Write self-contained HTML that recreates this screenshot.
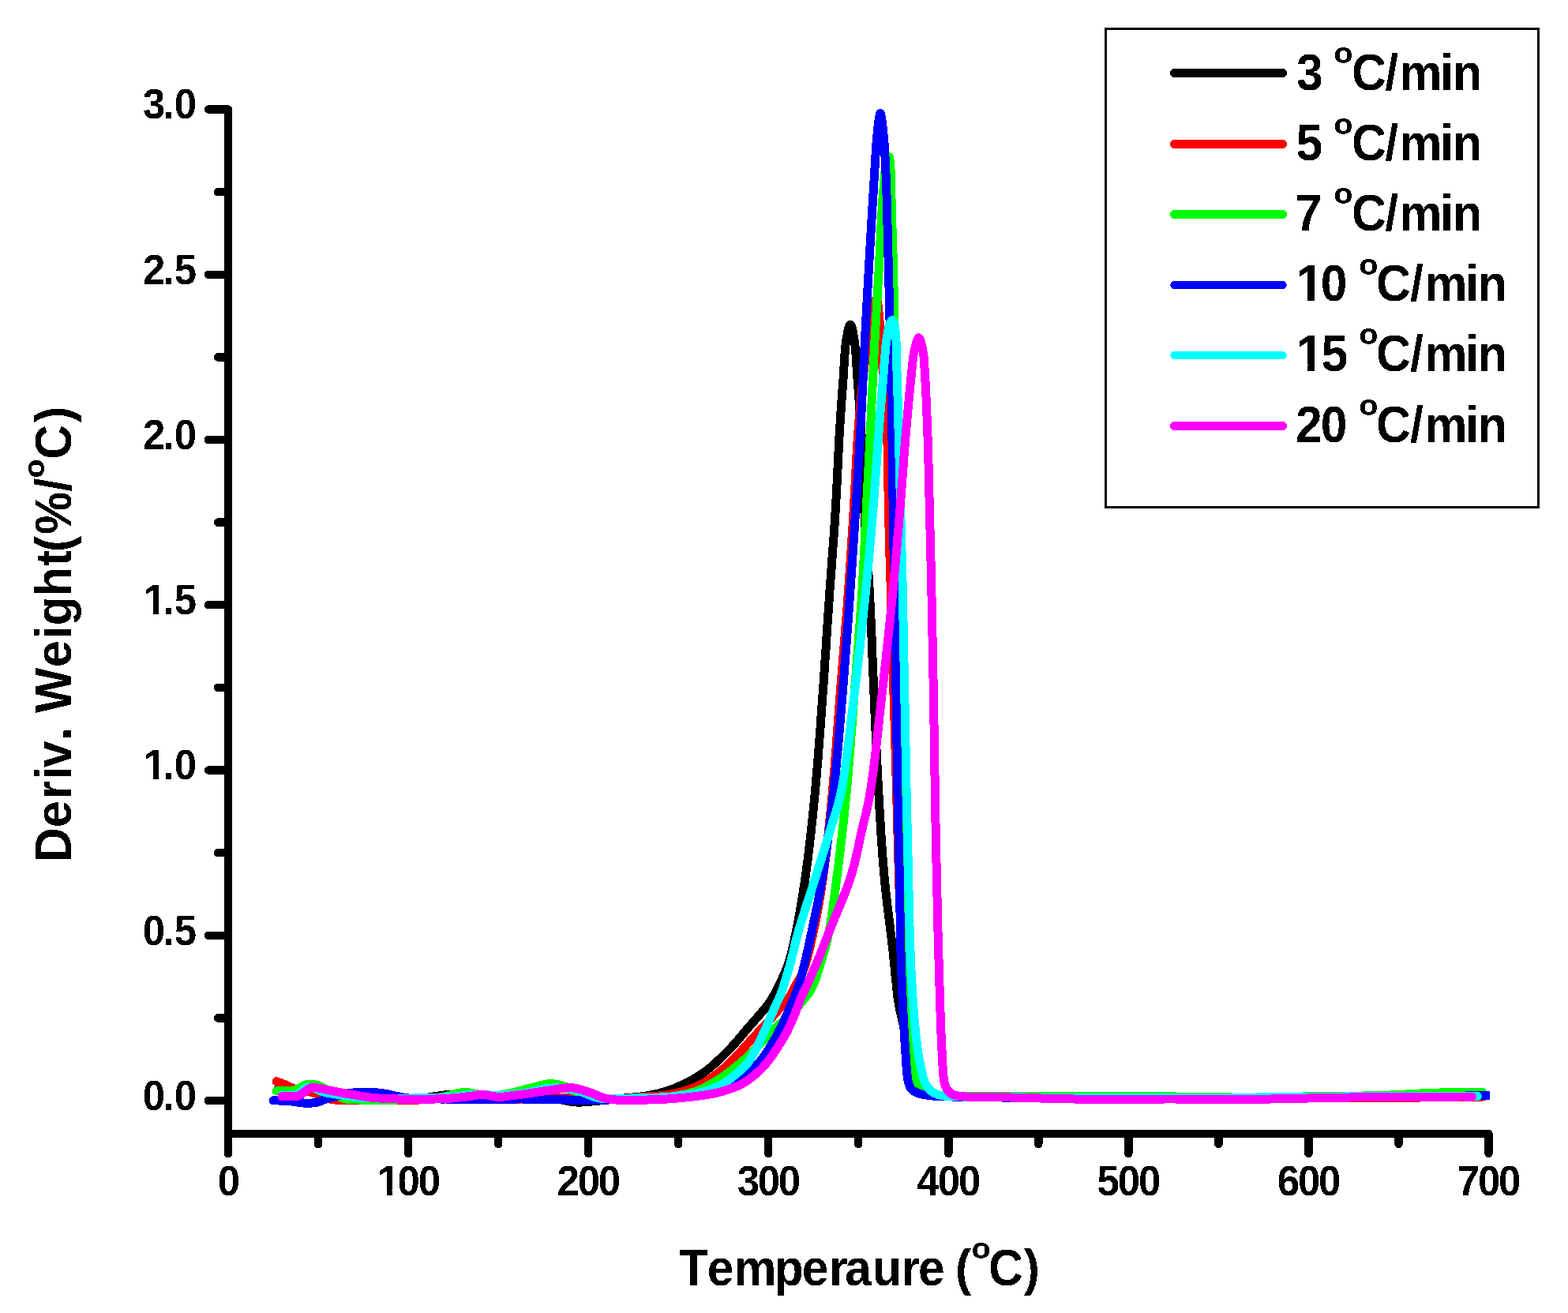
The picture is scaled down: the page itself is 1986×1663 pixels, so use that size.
<!DOCTYPE html>
<html lang="en"><head><meta charset="utf-8">
<title>Deriv. Weight vs Temperature</title>
<style>
html,body{margin:0;padding:0;background:#fff;}
body{width:1986px;height:1663px;overflow:hidden;}
svg{display:block;}
text{font-family:"Liberation Sans", sans-serif;font-weight:bold;fill:#000;font-kerning:none;white-space:pre;}
</style></head><body>
<svg width="1986" height="1663" viewBox="0 0 1986 1663" role="img" aria-label="Deriv. Weight versus Temperature at heating rates 3, 5, 7, 10, 15 and 20 degrees C per minute">
<rect x="0" y="0" width="1986" height="1663" fill="#fff"/>
<defs><filter id="bw" x="0" y="0" width="1986" height="1663" filterUnits="userSpaceOnUse" color-interpolation-filters="sRGB"><feComponentTransfer><feFuncR type="discrete" tableValues="0 1"/><feFuncG type="discrete" tableValues="0 1"/><feFuncB type="discrete" tableValues="0 1"/><feFuncA type="discrete" tableValues="0 1"/></feComponentTransfer></filter></defs>
<clipPath id="plot"><rect x="289" y="100" width="1598" height="1336"/></clipPath>
<g clip-path="url(#plot)" fill="none" stroke-width="11" stroke-linecap="round" stroke-linejoin="round" shape-rendering="crispEdges">
<path stroke="#000000" d="M353 1376.5 L354.4 1376.7 L355.8 1376.9 L357.3 1377.1 L358.7 1377.3 L360.1 1377.5 L361.6 1377.7 L363 1377.9 L364.4 1378.2 L365.8 1378.4 L367.2 1378.6 L368.6 1378.8 L370 1379 L371.3 1379.2 L372.6 1379.4 L373.9 1379.6 L375.2 1379.9 L376.6 1380.1 L377.9 1380.3 L379.1 1380.5 L380.4 1380.7 L381.6 1380.9 L382.8 1381.1 L383.9 1381.3 L385 1381.5 L385.8 1381.6 L386.5 1381.7 L387.2 1381.8 L387.9 1381.9 L388.5 1382 L389.2 1382.1 L389.8 1382.1 L390.5 1382.2 L391.1 1382.3 L391.7 1382.4 L392.4 1382.6 L393 1382.7 L393.6 1382.8 L394.2 1383 L394.8 1383.2 L395.3 1383.3 L395.9 1383.5 L396.5 1383.7 L397 1383.9 L397.6 1384.1 L398.2 1384.3 L398.8 1384.5 L399.4 1384.8 L400 1385 L400.8 1385.3 L401.5 1385.7 L402.3 1386 L403.1 1386.4 L403.9 1386.9 L404.7 1387.3 L405.6 1387.7 L406.4 1388.1 L407.3 1388.5 L408.2 1388.9 L409.1 1389.2 L410 1389.5 L411.1 1389.8 L412.2 1390.1 L413.4 1390.4 L414.5 1390.6 L415.7 1390.8 L416.9 1391 L418.1 1391.2 L419.4 1391.4 L420.7 1391.6 L422.1 1391.7 L423.5 1391.9 L425 1392 L427.4 1392.2 L430 1392.3 L432.7 1392.4 L435.5 1392.5 L438.4 1392.5 L441.4 1392.5 L444.5 1392.5 L447.6 1392.5 L450.7 1392.5 L453.9 1392.5 L457 1392.5 L460 1392.5 L463.2 1392.5 L466.5 1392.6 L469.9 1392.6 L473.2 1392.6 L476.6 1392.6 L480 1392.6 L483.4 1392.6 L486.8 1392.6 L490.1 1392.6 L493.5 1392.6 L496.8 1392.6 L500 1392.5 L503 1392.4 L506.1 1392.4 L509.1 1392.3 L512.2 1392.2 L515.2 1392.1 L518.3 1392 L521.2 1391.9 L524.2 1391.8 L527 1391.6 L529.8 1391.4 L532.4 1391.2 L535 1391 L536.9 1390.8 L538.7 1390.6 L540.5 1390.3 L542.2 1390.1 L543.9 1389.8 L545.5 1389.5 L547.2 1389.2 L548.8 1388.9 L550.3 1388.7 L551.9 1388.4 L553.4 1388.2 L555 1388 L556.3 1387.8 L557.6 1387.7 L558.9 1387.5 L560.2 1387.3 L561.4 1387.2 L562.6 1387 L563.9 1386.9 L565.1 1386.8 L566.3 1386.7 L567.5 1386.6 L568.8 1386.6 L570 1386.6 L571.3 1386.6 L572.5 1386.7 L573.8 1386.8 L575 1387 L576.3 1387.1 L577.5 1387.3 L578.8 1387.5 L580 1387.7 L581.3 1387.9 L582.5 1388.1 L583.8 1388.3 L585 1388.5 L586.2 1388.7 L587.4 1388.9 L588.6 1389.1 L589.8 1389.4 L591 1389.6 L592.2 1389.8 L593.4 1390.1 L594.6 1390.3 L595.9 1390.5 L597.2 1390.7 L598.6 1390.9 L600 1391 L602.1 1391.2 L604.4 1391.3 L606.8 1391.4 L609.2 1391.5 L611.8 1391.6 L614.3 1391.6 L617 1391.6 L619.6 1391.6 L622.3 1391.6 L624.9 1391.6 L627.5 1391.5 L630 1391.5 L632.5 1391.4 L635 1391.3 L637.4 1391.2 L639.8 1391.1 L642.3 1390.9 L644.7 1390.7 L647.2 1390.6 L649.7 1390.4 L652.2 1390.3 L654.7 1390.1 L657.3 1390.1 L660 1390 L663.2 1390 L666.4 1389.9 L669.7 1389.9 L673.1 1389.9 L676.6 1390 L680 1390 L683.5 1390.1 L686.9 1390.2 L690.3 1390.3 L693.6 1390.5 L696.9 1390.7 L700 1391 L702.7 1391.3 L705.3 1391.7 L707.8 1392.1 L710.3 1392.6 L712.8 1393.2 L715.3 1393.7 L717.7 1394.2 L720.2 1394.7 L722.6 1395.2 L725 1395.5 L727.5 1395.8 L730 1396 L732.5 1396.1 L735 1396.1 L737.5 1396 L740 1395.9 L742.5 1395.7 L745 1395.5 L747.5 1395.3 L750 1395 L752.5 1394.7 L755 1394.5 L757.5 1394.2 L760 1394 L762.5 1393.8 L765 1393.6 L767.5 1393.3 L770 1393.1 L772.5 1392.8 L775 1392.6 L777.5 1392.3 L780 1392.1 L782.5 1391.8 L785 1391.5 L787.5 1391.3 L790 1391 L792.5 1390.8 L795 1390.5 L797.5 1390.3 L800 1390.1 L802.5 1389.9 L805.1 1389.7 L807.6 1389.4 L810.1 1389.2 L812.6 1388.9 L815.1 1388.6 L817.5 1388.2 L820 1387.8 L822.5 1387.3 L825 1386.8 L827.5 1386.3 L830 1385.7 L832.6 1385.2 L835.1 1384.5 L837.5 1383.9 L840 1383.2 L842.3 1382.6 L844.6 1381.9 L846.8 1381.2 L848.9 1380.5 L850.4 1380 L851.9 1379.4 L853.3 1378.9 L854.7 1378.3 L856 1377.7 L857.3 1377.1 L858.6 1376.5 L859.9 1375.9 L861.2 1375.3 L862.4 1374.7 L863.7 1374.1 L865 1373.5 L866.3 1372.9 L867.5 1372.3 L868.8 1371.7 L870 1371.1 L871.3 1370.4 L872.5 1369.8 L873.8 1369.2 L875 1368.5 L876.2 1367.8 L877.5 1367.2 L878.7 1366.4 L880 1365.7 L881.4 1364.9 L882.8 1364 L884.2 1363.1 L885.6 1362.3 L887 1361.3 L888.4 1360.4 L889.8 1359.5 L891.2 1358.5 L892.6 1357.5 L894 1356.5 L895.4 1355.5 L896.8 1354.4 L898.2 1353.3 L899.7 1352.1 L901.1 1350.9 L902.5 1349.6 L903.9 1348.4 L905.3 1347.1 L906.7 1345.8 L908.1 1344.5 L909.5 1343.2 L910.9 1341.9 L912.3 1340.5 L913.7 1339.2 L915.1 1337.8 L916.5 1336.4 L918 1335.1 L919.4 1333.7 L920.8 1332.2 L922.2 1330.8 L923.6 1329.4 L925 1327.9 L926.4 1326.5 L927.7 1325 L929.1 1323.5 L930.5 1322 L931.9 1320.4 L933.3 1318.8 L934.7 1317.2 L936.1 1315.5 L937.5 1313.9 L938.9 1312.2 L940.3 1310.5 L941.7 1308.8 L943.1 1307.2 L944.5 1305.5 L945.9 1303.8 L947.3 1302.2 L948.7 1300.6 L950.2 1298.9 L951.7 1297.2 L953.1 1295.5 L954.6 1293.8 L956.1 1292.1 L957.6 1290.4 L959 1288.8 L960.4 1287.2 L961.7 1285.7 L963 1284.2 L964.2 1282.8 L965 1281.8 L965.8 1280.9 L966.5 1280.1 L967.3 1279.2 L968 1278.4 L968.6 1277.6 L969.3 1276.8 L970 1276 L970.6 1275.1 L971.3 1274.3 L971.9 1273.4 L972.6 1272.5 L973.3 1271.5 L974 1270.4 L974.8 1269.4 L975.5 1268.3 L976.1 1267.2 L976.8 1266.1 L977.5 1265 L978.2 1263.8 L978.9 1262.7 L979.6 1261.5 L980.3 1260.3 L981 1259 L981.9 1257.4 L982.8 1255.7 L983.7 1254 L984.6 1252.2 L985.5 1250.4 L986.4 1248.6 L987.3 1246.7 L988.2 1244.9 L989.1 1243 L989.9 1241.2 L990.7 1239.4 L991.5 1237.7 L992.2 1236.2 L992.8 1234.8 L993.5 1233.4 L994.1 1232 L994.7 1230.6 L995.3 1229.3 L995.8 1227.9 L996.4 1226.4 L997 1224.9 L997.6 1223.4 L998.1 1221.7 L998.7 1220 L999.5 1217.3 L1000.4 1214.4 L1001.2 1211.4 L1002 1208.3 L1002.8 1205.1 L1003.6 1201.8 L1004.4 1198.3 L1005.2 1194.8 L1006 1191.2 L1006.7 1187.5 L1007.5 1183.8 L1008.3 1180 L1009.3 1174.9 L1010.4 1169.6 L1011.4 1164.2 L1012.4 1158.7 L1013.4 1153 L1014.4 1147.1 L1015.4 1141.2 L1016.4 1135.1 L1017.4 1129 L1018.3 1122.7 L1019.3 1116.4 L1020.2 1110 L1021.3 1102 L1022.4 1093.9 L1023.5 1085.5 L1024.5 1076.9 L1025.5 1068.3 L1026.6 1059.4 L1027.5 1050.5 L1028.5 1041.5 L1029.5 1032.4 L1030.4 1023.3 L1031.3 1014.1 L1032.2 1005 L1033.1 995 L1034 984.8 L1034.9 974.5 L1035.8 964.2 L1036.6 953.7 L1037.4 943.2 L1038.2 932.6 L1039 922.1 L1039.7 911.5 L1040.5 901 L1041.2 890.5 L1042 880 L1042.8 869.6 L1043.5 859 L1044.2 848.5 L1044.9 837.9 L1045.7 827.4 L1046.4 816.8 L1047 806.3 L1047.7 795.9 L1048.4 785.5 L1049.1 775.2 L1049.8 765 L1050.5 755 L1051.1 745.9 L1051.8 737 L1052.4 728.1 L1053.1 719.3 L1053.7 710.6 L1054.4 701.9 L1055 693.3 L1055.7 684.7 L1056.3 676 L1056.9 667.4 L1057.4 658.7 L1058 650 L1058.5 641.2 L1059 632.2 L1059.5 623.2 L1060 614.1 L1060.4 605 L1060.9 595.9 L1061.3 587 L1061.7 578.1 L1062.2 569.5 L1062.6 561 L1063 552.9 L1063.5 545 L1063.9 539 L1064.2 533.2 L1064.6 527.5 L1065 521.9 L1065.4 516.4 L1065.7 511 L1066.1 505.7 L1066.5 500.5 L1066.9 495.3 L1067.2 490.2 L1067.6 485.1 L1068 480 L1068.3 475.5 L1068.6 471 L1068.9 466.5 L1069.1 462 L1069.4 457.5 L1069.7 453.1 L1070 448.8 L1070.3 444.6 L1070.7 440.6 L1071 436.9 L1071.5 433.3 L1072 430 L1072.3 428 L1072.7 425.8 L1073.1 423.7 L1073.5 421.6 L1073.9 419.5 L1074.4 417.5 L1074.8 415.7 L1075.3 414.2 L1075.7 412.9 L1076.1 411.9 L1076.6 411.2 L1077 411 L1077.4 411.2 L1077.9 411.9 L1078.3 412.9 L1078.7 414.2 L1079.2 415.7 L1079.6 417.5 L1080.1 419.5 L1080.5 421.6 L1080.9 423.7 L1081.3 425.8 L1081.7 428 L1082 430 L1082.5 433.3 L1082.9 436.8 L1083.3 440.6 L1083.7 444.6 L1084 448.7 L1084.3 453 L1084.6 457.3 L1084.8 461.8 L1085.1 466.3 L1085.4 470.9 L1085.7 475.5 L1086 480 L1086.4 485.4 L1086.8 490.8 L1087.3 496.4 L1087.7 502 L1088.1 507.7 L1088.6 513.5 L1089 519.3 L1089.4 525.3 L1089.8 531.3 L1090.3 537.5 L1090.6 543.7 L1091 550 L1091.4 557.7 L1091.8 565.6 L1092.1 573.7 L1092.4 581.9 L1092.7 590.3 L1093 598.7 L1093.3 607.3 L1093.6 615.8 L1093.9 624.4 L1094.2 633 L1094.6 641.5 L1095 650 L1095.5 658.6 L1096 667.2 L1096.5 675.9 L1097.1 684.5 L1097.7 693.1 L1098.2 701.8 L1098.8 710.5 L1099.4 719.2 L1100 728 L1100.6 736.9 L1101.1 745.9 L1101.6 755 L1102.1 765 L1102.6 775.2 L1103.1 785.5 L1103.5 795.8 L1104 806.3 L1104.4 816.8 L1104.8 827.3 L1105.2 837.9 L1105.7 848.4 L1106.1 859 L1106.5 869.5 L1107 880 L1107.5 890.6 L1107.9 901.3 L1108.4 912 L1108.9 922.8 L1109.4 933.5 L1109.8 944.3 L1110.3 955 L1110.8 965.6 L1111.4 976.2 L1111.9 986.6 L1112.4 996.9 L1113 1007 L1113.5 1016 L1114 1024.8 L1114.5 1033.6 L1115.1 1042.3 L1115.6 1050.9 L1116.1 1059.5 L1116.7 1067.9 L1117.3 1076.4 L1117.9 1084.8 L1118.6 1093.2 L1119.3 1101.6 L1120 1110 L1120.8 1118.1 L1121.6 1126.3 L1122.5 1134.5 L1123.5 1142.6 L1124.4 1150.8 L1125.4 1158.9 L1126.4 1166.9 L1127.4 1174.8 L1128.3 1182.6 L1129.3 1190.3 L1130.2 1197.7 L1131 1205 L1131.6 1210.9 L1132.2 1216.8 L1132.8 1222.6 L1133.4 1228.4 L1133.9 1234.1 L1134.4 1239.7 L1135 1245.1 L1135.5 1250.4 L1136.1 1255.6 L1136.7 1260.6 L1137.3 1265.4 L1138 1270 L1138.5 1273.1 L1139.1 1276.1 L1139.7 1278.9 L1140.3 1281.6 L1140.9 1284.2 L1141.6 1286.8 L1142.2 1289.4 L1142.8 1292 L1143.4 1294.6 L1144 1297.3 L1144.5 1300.1 L1145 1303 L1145.5 1306.7 L1146 1310.5 L1146.4 1314.6 L1146.7 1318.7 L1147.1 1322.9 L1147.4 1327.1 L1147.7 1331.2 L1148 1335.3 L1148.4 1339.3 L1148.7 1343.1 L1149.1 1346.7 L1149.5 1350 L1149.8 1352.2 L1150 1354.3 L1150.3 1356.3 L1150.5 1358.3 L1150.8 1360.2 L1151.1 1362.1 L1151.3 1363.9 L1151.7 1365.6 L1152 1367.3 L1152.5 1368.9 L1152.9 1370.5 L1153.5 1372 L1154 1373.1 L1154.4 1374.2 L1154.9 1375.3 L1155.4 1376.3 L1156 1377.3 L1156.5 1378.2 L1157.2 1379.2 L1157.8 1380 L1158.5 1380.8 L1159.3 1381.6 L1160.1 1382.3 L1161 1383 L1162.1 1383.7 L1163.3 1384.3 L1164.6 1384.8 L1165.9 1385.2 L1167.3 1385.6 L1168.8 1385.9 L1170.3 1386.2 L1172 1386.4 L1173.8 1386.6 L1175.7 1386.8 L1177.8 1387 L1180 1387.3 L1186.2 1387.9 L1193.4 1388.3 L1201.4 1388.6 L1210.3 1388.8 L1219.9 1388.9 L1230.1 1389 L1240.9 1389 L1252.2 1389 L1263.8 1388.9 L1275.7 1388.9 L1287.8 1388.9 L1300 1389 L1320.3 1389.2 L1342.3 1389.4 L1365.8 1389.5 L1390.5 1389.7 L1416.1 1389.9 L1442.4 1390 L1469.1 1390.1 L1496 1390.2 L1522.8 1390.3 L1549.2 1390.4 L1575 1390.5 L1600 1390.5 L1623.3 1390.5 L1646.5 1390.5 L1669.6 1390.4 L1692.6 1390.3 L1715.4 1390.3 L1738.2 1390.1 L1761 1390 L1783.8 1389.9 L1806.5 1389.8 L1829.3 1389.7 L1852.1 1389.6 L1875 1389.5"/>
<path stroke="#ff0000" d="M350.1 1369.6 L350.8 1369.8 L351.4 1370.1 L352.1 1370.3 L352.7 1370.5 L353.4 1370.8 L354.1 1371 L354.7 1371.3 L355.4 1371.5 L356 1371.7 L356.7 1372 L357.3 1372.2 L358 1372.5 L358.7 1372.8 L359.3 1373.1 L360 1373.3 L360.7 1373.6 L361.3 1373.9 L362 1374.2 L362.7 1374.5 L363.3 1374.8 L364 1375.1 L364.7 1375.4 L365.3 1375.7 L366 1376 L366.7 1376.3 L367.3 1376.6 L368 1376.9 L368.6 1377.2 L369.3 1377.5 L369.9 1377.8 L370.6 1378.1 L371.2 1378.4 L371.9 1378.7 L372.6 1379 L373.3 1379.3 L374 1379.5 L374.8 1379.8 L375.6 1380 L376.5 1380.2 L377.3 1380.4 L378.2 1380.6 L379 1380.8 L379.9 1381 L380.8 1381.2 L381.6 1381.4 L382.4 1381.5 L383.2 1381.7 L384 1381.8 L384.6 1381.9 L385.1 1382 L385.7 1382.1 L386.2 1382.2 L386.8 1382.2 L387.3 1382.3 L387.8 1382.4 L388.3 1382.4 L388.8 1382.5 L389.4 1382.6 L389.9 1382.6 L390.4 1382.7 L390.9 1382.8 L391.4 1382.8 L391.9 1382.9 L392.4 1383 L393 1383.1 L393.5 1383.1 L394 1383.2 L394.5 1383.3 L395 1383.4 L395.5 1383.5 L396 1383.6 L396.5 1383.7 L397 1383.8 L397.6 1384 L398.1 1384.2 L398.7 1384.3 L399.2 1384.5 L399.7 1384.7 L400.3 1384.9 L400.8 1385.1 L401.4 1385.3 L401.9 1385.5 L402.4 1385.8 L403 1386 L403.6 1386.3 L404.2 1386.6 L404.8 1387 L405.5 1387.4 L406.1 1387.8 L406.7 1388.2 L407.3 1388.6 L408 1389 L408.6 1389.3 L409.3 1389.7 L409.9 1390 L410.6 1390.3 L411.3 1390.6 L412.1 1390.8 L412.8 1391.1 L413.6 1391.3 L414.4 1391.5 L415.2 1391.6 L416 1391.8 L416.8 1392 L417.6 1392.1 L418.4 1392.2 L419.2 1392.4 L420 1392.5 L420.8 1392.6 L421.7 1392.7 L422.5 1392.8 L423.3 1392.9 L424.1 1393 L424.9 1393 L425.7 1393.1 L426.6 1393.1 L427.5 1393.2 L428.5 1393.2 L429.6 1393.3 L430.7 1393.3 L433.1 1393.4 L435.8 1393.4 L438.7 1393.5 L441.8 1393.5 L445.1 1393.5 L448.5 1393.5 L452 1393.5 L455.6 1393.5 L459.3 1393.5 L462.9 1393.5 L466.5 1393.5 L470 1393.5 L474 1393.5 L478.1 1393.6 L482.3 1393.6 L486.6 1393.6 L490.9 1393.7 L495.2 1393.7 L499.5 1393.7 L503.8 1393.7 L508 1393.7 L512.1 1393.7 L516.1 1393.6 L520 1393.5 L523.2 1393.4 L526.3 1393.2 L529.5 1393.1 L532.6 1392.9 L535.7 1392.7 L538.7 1392.5 L541.6 1392.2 L544.5 1392 L547.3 1391.8 L550 1391.5 L552.5 1391.3 L555 1391 L556.6 1390.8 L558.2 1390.6 L559.7 1390.3 L561.1 1390 L562.5 1389.8 L563.9 1389.5 L565.2 1389.2 L566.5 1389 L567.9 1388.8 L569.2 1388.6 L570.6 1388.5 L572 1388.5 L573.5 1388.5 L574.9 1388.6 L576.4 1388.8 L577.8 1389 L579.2 1389.3 L580.7 1389.5 L582.1 1389.8 L583.6 1390.1 L585.2 1390.4 L586.7 1390.6 L588.3 1390.8 L590 1391 L592.2 1391.2 L594.5 1391.3 L596.9 1391.4 L599.3 1391.6 L601.7 1391.6 L604.2 1391.7 L606.8 1391.8 L609.4 1391.8 L612 1391.9 L614.7 1391.9 L617.3 1392 L620 1392 L623.1 1392 L626.3 1392.1 L629.6 1392.1 L632.9 1392.2 L636.3 1392.2 L639.6 1392.2 L643 1392.2 L646.5 1392.2 L649.9 1392.2 L653.3 1392.1 L656.6 1392.1 L660 1392 L663.3 1391.9 L666.7 1391.7 L670 1391.5 L673.3 1391.3 L676.7 1391.1 L680 1390.9 L683.3 1390.7 L686.7 1390.4 L690 1390.3 L693.3 1390.1 L696.7 1390 L700 1390 L703.3 1390 L706.7 1390.1 L710 1390.3 L713.3 1390.4 L716.7 1390.7 L720 1390.9 L723.3 1391.1 L726.7 1391.3 L730 1391.5 L733.3 1391.7 L736.7 1391.9 L740 1392 L743.3 1392.1 L746.7 1392.2 L750 1392.2 L753.3 1392.3 L756.7 1392.3 L760 1392.3 L763.3 1392.3 L766.7 1392.3 L770 1392.3 L773.3 1392.2 L776.7 1392.1 L780 1392 L783.4 1391.9 L786.7 1391.7 L790.1 1391.5 L793.6 1391.2 L797 1391 L800.4 1390.7 L803.7 1390.4 L807.1 1390.1 L810.4 1389.9 L813.7 1389.6 L816.9 1389.3 L820 1389 L822.7 1388.8 L825.3 1388.6 L827.8 1388.4 L830.3 1388.2 L832.8 1388.1 L835.3 1387.9 L837.8 1387.7 L840.2 1387.4 L842.6 1387.2 L845.1 1386.8 L847.5 1386.5 L850 1386 L852.5 1385.5 L855.1 1384.9 L857.7 1384.3 L860.3 1383.6 L862.9 1382.9 L865.5 1382.1 L868 1381.4 L870.5 1380.5 L873 1379.7 L875.4 1378.8 L877.8 1377.9 L880 1377 L881.9 1376.2 L883.7 1375.4 L885.4 1374.5 L887.1 1373.7 L888.8 1372.8 L890.5 1371.9 L892.1 1371 L893.7 1370 L895.3 1369 L896.8 1368 L898.4 1367 L900 1366 L901.6 1364.9 L903.1 1363.8 L904.7 1362.7 L906.3 1361.5 L907.8 1360.4 L909.3 1359.2 L910.8 1358 L912.3 1356.7 L913.7 1355.5 L915.2 1354.3 L916.5 1353.2 L917.9 1352 L919 1351 L920.1 1350 L921.2 1349.1 L922.3 1348.2 L923.3 1347.2 L924.3 1346.3 L925.3 1345.3 L926.3 1344.4 L927.3 1343.4 L928.4 1342.4 L929.4 1341.3 L930.5 1340.2 L931.8 1338.8 L933.2 1337.4 L934.6 1335.9 L936 1334.4 L937.4 1332.8 L938.8 1331.2 L940.2 1329.6 L941.6 1328 L943.1 1326.4 L944.5 1324.8 L945.9 1323.3 L947.3 1321.7 L948.7 1320.1 L950.2 1318.5 L951.7 1316.8 L953.2 1315.2 L954.7 1313.5 L956.2 1311.8 L957.7 1310.2 L959.1 1308.7 L960.5 1307.2 L961.8 1305.7 L963.1 1304.4 L964.2 1303.2 L964.8 1302.5 L965.5 1301.9 L966 1301.4 L966.6 1300.9 L967.1 1300.4 L967.6 1299.9 L968.1 1299.4 L968.6 1298.9 L969.1 1298.4 L969.7 1297.9 L970.3 1297.3 L970.9 1296.6 L972 1295.4 L973.1 1294.2 L974.3 1292.8 L975.5 1291.4 L976.8 1289.9 L978.1 1288.3 L979.5 1286.7 L980.8 1285.1 L982.1 1283.6 L983.5 1282 L984.7 1280.5 L986 1279 L987.2 1277.6 L988.4 1276.2 L989.7 1274.8 L990.9 1273.5 L992.2 1272.1 L993.4 1270.7 L994.6 1269.3 L995.8 1268 L997 1266.6 L998 1265.3 L999.1 1263.9 L1000 1262.6 L1000.7 1261.5 L1001.3 1260.5 L1001.9 1259.5 L1002.5 1258.5 L1003 1257.4 L1003.5 1256.4 L1004 1255.4 L1004.5 1254.4 L1005 1253.3 L1005.6 1252.3 L1006.1 1251.1 L1006.7 1250 L1007.5 1248.6 L1008.3 1247.1 L1009.2 1245.7 L1010 1244.2 L1010.9 1242.7 L1011.8 1241.2 L1012.7 1239.6 L1013.6 1237.9 L1014.5 1236.2 L1015.3 1234.4 L1016.2 1232.5 L1017 1230.5 L1018.2 1227.2 L1019.4 1223.6 L1020.6 1219.8 L1021.8 1215.8 L1022.9 1211.7 L1024 1207.4 L1025.1 1202.9 L1026.2 1198.4 L1027.2 1193.8 L1028.3 1189.2 L1029.3 1184.6 L1030.3 1180 L1031.5 1174.6 L1032.6 1169.2 L1033.7 1163.7 L1034.8 1158.1 L1035.8 1152.4 L1036.8 1146.6 L1037.8 1140.8 L1038.8 1134.8 L1039.8 1128.8 L1040.7 1122.6 L1041.7 1116.4 L1042.6 1110 L1043.7 1102.2 L1044.7 1094.1 L1045.8 1085.9 L1046.8 1077.6 L1047.7 1069.1 L1048.7 1060.4 L1049.6 1051.7 L1050.5 1042.9 L1051.4 1034 L1052.3 1025 L1053.1 1016 L1054 1007 L1054.9 996.9 L1055.8 986.6 L1056.7 976.2 L1057.5 965.6 L1058.4 955 L1059.2 944.3 L1060 933.5 L1060.8 922.8 L1061.6 912 L1062.4 901.3 L1063.2 890.6 L1064 880 L1064.8 869.5 L1065.7 859 L1066.6 848.4 L1067.4 837.9 L1068.3 827.3 L1069.1 816.8 L1070 806.3 L1070.8 795.8 L1071.7 785.5 L1072.5 775.2 L1073.3 765 L1074 755 L1074.7 745.9 L1075.3 737 L1075.9 728.1 L1076.5 719.3 L1077.1 710.6 L1077.7 701.9 L1078.3 693.3 L1078.8 684.7 L1079.4 676 L1079.9 667.4 L1080.5 658.7 L1081 650 L1081.5 641.2 L1082 632.2 L1082.5 623.2 L1083 614.1 L1083.5 605 L1083.9 595.9 L1084.4 587 L1084.9 578.1 L1085.4 569.5 L1085.9 561 L1086.4 552.9 L1087 545 L1087.5 539 L1087.9 533.1 L1088.4 527.4 L1088.9 521.8 L1089.4 516.3 L1089.9 510.9 L1090.4 505.5 L1090.9 500.3 L1091.4 495.1 L1092 490 L1092.5 485 L1093 480 L1093.4 475.8 L1093.9 471.7 L1094.3 467.6 L1094.8 463.6 L1095.2 459.6 L1095.7 455.7 L1096.1 451.8 L1096.6 448 L1097.1 444.2 L1097.5 440.5 L1098 436.7 L1098.5 433 L1098.9 429.6 L1099.3 426.2 L1099.7 422.8 L1100.1 419.4 L1100.5 416 L1100.9 412.7 L1101.4 409.4 L1101.8 406.2 L1102.3 403.2 L1102.8 400.3 L1103.4 397.5 L1104 395 L1104.4 393.3 L1104.9 391.6 L1105.4 389.8 L1105.9 388.1 L1106.5 386.4 L1107 384.8 L1107.6 383.3 L1108.1 382 L1108.6 380.9 L1109.1 380.1 L1109.6 379.6 L1110 379.5 L1110.5 379.9 L1111 381.1 L1111.5 382.8 L1111.9 385.1 L1112.2 387.8 L1112.6 390.8 L1112.9 394 L1113.2 397.3 L1113.5 400.7 L1113.8 404 L1114.1 407.1 L1114.4 410 L1114.7 413.1 L1115 416.3 L1115.2 419.5 L1115.5 422.8 L1115.7 426 L1115.9 429.4 L1116 432.7 L1116.2 436.1 L1116.4 439.6 L1116.6 443 L1116.8 446.5 L1117 450 L1117.2 454 L1117.5 458.1 L1117.7 462.2 L1118 466.5 L1118.2 470.7 L1118.5 475 L1118.7 479.3 L1119 483.5 L1119.2 487.8 L1119.5 491.9 L1119.7 496 L1120 500 L1120.3 503.4 L1120.5 506.7 L1120.8 509.8 L1121.1 512.9 L1121.4 516 L1121.7 519 L1121.9 522.1 L1122.2 525.4 L1122.5 528.7 L1122.7 532.2 L1123 536 L1123.2 540 L1123.5 547.3 L1123.8 555.2 L1124 563.7 L1124.2 572.7 L1124.4 582.1 L1124.5 591.7 L1124.7 601.6 L1124.8 611.5 L1125 621.4 L1125.1 631.2 L1125.3 640.7 L1125.5 650 L1125.7 658.8 L1126 667.5 L1126.2 676.2 L1126.4 684.8 L1126.7 693.5 L1126.9 702.1 L1127.2 710.7 L1127.5 719.4 L1127.7 728.2 L1128 737 L1128.2 745.9 L1128.5 755 L1128.8 765 L1129.1 775.2 L1129.4 785.4 L1129.6 795.8 L1129.9 806.2 L1130.2 816.7 L1130.5 827.2 L1130.8 837.7 L1131.1 848.3 L1131.4 858.9 L1131.7 869.5 L1132 880 L1132.3 890.8 L1132.6 901.7 L1133 912.7 L1133.3 923.8 L1133.6 934.8 L1133.9 945.9 L1134.3 956.9 L1134.6 967.8 L1134.9 978.6 L1135.2 989.3 L1135.5 999.8 L1135.8 1010 L1136 1018.8 L1136.3 1027.4 L1136.5 1035.8 L1136.7 1044.1 L1136.9 1052.4 L1137.1 1060.5 L1137.3 1068.7 L1137.5 1076.8 L1137.8 1085 L1138 1093.2 L1138.2 1101.5 L1138.5 1110 L1138.8 1119 L1139.1 1128.2 L1139.4 1137.4 L1139.7 1146.7 L1140 1156 L1140.3 1165.4 L1140.6 1174.7 L1141 1184 L1141.3 1193.2 L1141.7 1202.2 L1142.1 1211.2 L1142.5 1220 L1142.9 1227.9 L1143.3 1235.9 L1143.7 1243.9 L1144.1 1251.8 L1144.6 1259.7 L1145 1267.5 L1145.5 1275.2 L1146 1282.6 L1146.5 1289.9 L1147 1296.9 L1147.5 1303.6 L1148 1310 L1148.4 1314.4 L1148.8 1318.6 L1149.1 1322.8 L1149.5 1326.9 L1149.9 1330.8 L1150.3 1334.7 L1150.7 1338.4 L1151.1 1342 L1151.6 1345.5 L1152 1348.8 L1152.5 1352 L1153 1355 L1153.3 1356.9 L1153.6 1358.7 L1153.9 1360.5 L1154.2 1362.2 L1154.5 1363.9 L1154.8 1365.5 L1155.1 1367 L1155.5 1368.5 L1155.9 1370 L1156.4 1371.4 L1156.9 1372.7 L1157.5 1374 L1158 1375 L1158.6 1376 L1159.1 1377 L1159.7 1377.9 L1160.3 1378.8 L1161 1379.7 L1161.7 1380.5 L1162.4 1381.3 L1163.2 1382.1 L1164.1 1382.8 L1165 1383.4 L1166 1384 L1167.4 1384.7 L1169 1385.3 L1170.6 1385.8 L1172.3 1386.1 L1174.1 1386.4 L1176 1386.6 L1178 1386.8 L1180.2 1387 L1182.4 1387.1 L1184.8 1387.2 L1187.3 1387.4 L1190 1387.6 L1196.3 1388 L1203.3 1388.4 L1211.1 1388.6 L1219.5 1388.8 L1228.5 1388.9 L1237.9 1389 L1247.8 1389 L1257.9 1389.1 L1268.3 1389.1 L1278.8 1389.1 L1289.4 1389.2 L1300 1389.3 L1314.6 1389.5 L1329.9 1389.6 L1345.8 1389.8 L1362.3 1389.9 L1379.1 1390.1 L1396.3 1390.2 L1413.7 1390.3 L1431.1 1390.4 L1448.6 1390.6 L1466 1390.6 L1483.1 1390.7 L1500 1390.8 L1516.9 1390.9 L1534.1 1390.9 L1551.6 1390.9 L1569.2 1391 L1586.8 1391 L1604.3 1391 L1621.5 1391 L1638.4 1391 L1654.8 1390.9 L1670.6 1390.9 L1685.7 1390.9 L1700 1390.8 L1709.6 1390.8 L1718.8 1390.7 L1727.7 1390.7 L1736.3 1390.6 L1744.7 1390.5 L1752.9 1390.5 L1760.9 1390.4 L1768.8 1390.3 L1776.6 1390.2 L1784.4 1390.2 L1792.2 1390.1 L1800 1390 L1806.9 1389.9 L1813.7 1389.8 L1820.4 1389.8 L1827 1389.7 L1833.6 1389.6 L1840.1 1389.5 L1846.6 1389.4 L1853 1389.3 L1859.5 1389.3 L1865.9 1389.2 L1872.4 1389.1 L1879 1389"/>
<path stroke="#00ff00" d="M350.1 1381.7 L351.1 1381.7 L352.1 1381.7 L353.1 1381.7 L354.1 1381.6 L355.1 1381.6 L356.1 1381.6 L357.1 1381.6 L358.1 1381.6 L359.1 1381.6 L360.1 1381.6 L361 1381.5 L362 1381.5 L362.9 1381.5 L363.7 1381.5 L364.6 1381.5 L365.5 1381.5 L366.3 1381.5 L367.1 1381.5 L368 1381.5 L368.8 1381.4 L369.6 1381.4 L370.4 1381.3 L371.2 1381.2 L372 1381 L372.7 1380.8 L373.4 1380.6 L374.1 1380.3 L374.8 1380.1 L375.4 1379.8 L376.1 1379.5 L376.7 1379.1 L377.4 1378.8 L378 1378.5 L378.7 1378.1 L379.3 1377.8 L380 1377.5 L380.7 1377.2 L381.3 1376.8 L382 1376.5 L382.6 1376.1 L383.2 1375.8 L383.9 1375.4 L384.5 1375 L385.2 1374.7 L385.9 1374.4 L386.6 1374.1 L387.3 1373.9 L388 1373.7 L388.8 1373.5 L389.7 1373.4 L390.6 1373.3 L391.6 1373.2 L392.5 1373.2 L393.5 1373.2 L394.4 1373.2 L395.4 1373.3 L396.3 1373.3 L397.2 1373.4 L398.1 1373.6 L399 1373.7 L399.8 1373.9 L400.6 1374 L401.3 1374.2 L402.1 1374.5 L402.8 1374.7 L403.5 1375 L404.2 1375.3 L405 1375.6 L405.7 1375.9 L406.5 1376.3 L407.2 1376.6 L408 1377 L408.9 1377.5 L409.9 1378 L410.9 1378.5 L411.8 1379.1 L412.8 1379.7 L413.8 1380.3 L414.8 1380.9 L415.8 1381.6 L416.8 1382.2 L417.9 1382.8 L418.9 1383.4 L420 1384 L421.2 1384.7 L422.5 1385.3 L423.8 1386 L425.1 1386.8 L426.4 1387.5 L427.7 1388.1 L429 1388.8 L430.4 1389.5 L431.8 1390.1 L433.2 1390.6 L434.6 1391.1 L436 1391.5 L437.5 1391.9 L439 1392.1 L440.4 1392.4 L441.9 1392.5 L443.5 1392.6 L445 1392.7 L446.5 1392.8 L448.1 1392.8 L449.8 1392.9 L451.5 1392.9 L453.2 1392.9 L455 1393 L457.5 1393.1 L460.2 1393.2 L462.9 1393.2 L465.8 1393.3 L468.7 1393.3 L471.7 1393.3 L474.7 1393.3 L477.8 1393.3 L480.8 1393.3 L483.9 1393.3 L487 1393.2 L490 1393.2 L493.3 1393.2 L496.6 1393.1 L499.9 1393 L503.4 1393 L506.8 1392.9 L510.2 1392.8 L513.6 1392.7 L517 1392.6 L520.3 1392.5 L523.6 1392.3 L526.9 1392.2 L530 1392 L532.7 1391.9 L535.3 1391.7 L538 1391.6 L540.6 1391.4 L543.2 1391.2 L545.8 1391.1 L548.3 1390.9 L550.7 1390.7 L553.2 1390.4 L555.5 1390.1 L557.8 1389.8 L560 1389.5 L561.7 1389.2 L563.3 1388.8 L564.9 1388.5 L566.5 1388.1 L568 1387.6 L569.5 1387.2 L571 1386.8 L572.4 1386.4 L573.8 1386 L575.2 1385.6 L576.6 1385.3 L578 1385 L579.1 1384.8 L580.2 1384.6 L581.3 1384.4 L582.3 1384.2 L583.4 1384.1 L584.4 1383.9 L585.4 1383.8 L586.4 1383.7 L587.4 1383.6 L588.4 1383.5 L589.5 1383.5 L590.5 1383.5 L591.5 1383.5 L592.6 1383.6 L593.6 1383.8 L594.6 1383.9 L595.6 1384.1 L596.6 1384.3 L597.7 1384.5 L598.7 1384.7 L599.7 1384.9 L600.8 1385.1 L601.9 1385.3 L603 1385.5 L604.3 1385.7 L605.7 1386 L607 1386.2 L608.4 1386.5 L609.8 1386.7 L611.2 1387 L612.7 1387.2 L614.1 1387.5 L615.6 1387.7 L617.1 1387.8 L618.5 1387.9 L620 1388 L621.6 1388 L623.2 1388 L624.8 1387.9 L626.4 1387.8 L628 1387.7 L629.7 1387.5 L631.3 1387.3 L633 1387.1 L634.7 1386.9 L636.4 1386.6 L638.2 1386.3 L640 1386 L642.3 1385.6 L644.7 1385.1 L647.1 1384.5 L649.6 1383.9 L652.2 1383.2 L654.8 1382.5 L657.3 1381.8 L659.9 1381.1 L662.5 1380.4 L665 1379.7 L667.5 1379.1 L670 1378.5 L672.3 1377.9 L674.5 1377.4 L676.8 1376.7 L679.1 1376.1 L681.4 1375.5 L683.6 1374.9 L685.8 1374.4 L688 1373.9 L690.1 1373.4 L692.2 1373.1 L694.2 1372.8 L696.2 1372.7 L697.7 1372.7 L699.1 1372.7 L700.4 1372.8 L701.8 1372.9 L703.1 1373 L704.4 1373.2 L705.6 1373.4 L706.9 1373.7 L708.2 1374 L709.4 1374.3 L710.7 1374.6 L712 1375 L713.4 1375.4 L714.7 1375.9 L716 1376.4 L717.4 1377 L718.7 1377.6 L720 1378.2 L721.3 1378.8 L722.7 1379.5 L724 1380.1 L725.3 1380.8 L726.7 1381.4 L728 1382 L729.4 1382.6 L730.8 1383.3 L732.1 1384 L733.5 1384.7 L734.8 1385.4 L736.2 1386 L737.6 1386.7 L739 1387.4 L740.4 1388 L741.9 1388.5 L743.4 1389 L745 1389.5 L746.9 1390 L748.7 1390.3 L750.7 1390.7 L752.6 1390.9 L754.6 1391.2 L756.6 1391.3 L758.7 1391.5 L760.8 1391.6 L763 1391.7 L765.3 1391.8 L767.6 1391.9 L770 1392 L773.6 1392.1 L777.5 1392.2 L781.6 1392.2 L785.9 1392.1 L790.3 1392 L794.7 1391.9 L799.2 1391.8 L803.6 1391.7 L808 1391.5 L812.2 1391.3 L816.2 1391.2 L820 1391 L822.8 1390.9 L825.4 1390.8 L828 1390.7 L830.6 1390.6 L833.1 1390.5 L835.5 1390.3 L837.9 1390.2 L840.3 1390 L842.7 1389.8 L845.1 1389.6 L847.5 1389.3 L850 1389 L852.5 1388.6 L855.1 1388.2 L857.7 1387.8 L860.4 1387.3 L863 1386.8 L865.6 1386.3 L868.2 1385.8 L870.7 1385.2 L873.2 1384.6 L875.5 1383.9 L877.8 1383.3 L880 1382.6 L881.6 1382.1 L883.1 1381.5 L884.6 1380.9 L886 1380.3 L887.4 1379.7 L888.8 1379.1 L890.1 1378.4 L891.4 1377.8 L892.8 1377.1 L894.1 1376.4 L895.4 1375.7 L896.8 1375 L898.2 1374.2 L899.7 1373.5 L901.1 1372.7 L902.5 1371.9 L903.9 1371.1 L905.3 1370.2 L906.7 1369.4 L908.1 1368.5 L909.5 1367.6 L910.9 1366.7 L912.3 1365.8 L913.7 1364.9 L915.1 1363.9 L916.5 1362.9 L918 1361.9 L919.4 1360.9 L920.8 1359.9 L922.2 1358.8 L923.6 1357.8 L925 1356.7 L926.3 1355.6 L927.7 1354.5 L929.1 1353.4 L930.5 1352.3 L931.9 1351.2 L933.3 1350 L934.8 1348.8 L936.2 1347.7 L937.6 1346.5 L939 1345.3 L940.4 1344.1 L941.8 1342.9 L943.2 1341.7 L944.6 1340.5 L946 1339.2 L947.3 1338 L948.6 1336.8 L949.9 1335.6 L951.1 1334.3 L952.3 1333.1 L953.6 1331.8 L954.8 1330.6 L956 1329.3 L957.2 1328.1 L958.4 1326.8 L959.6 1325.5 L960.8 1324.3 L962 1323 L963.2 1321.8 L964.4 1320.5 L965.5 1319.2 L966.7 1318 L967.8 1316.7 L969 1315.4 L970.1 1314.2 L971.3 1312.9 L972.4 1311.7 L973.6 1310.4 L974.8 1309.2 L976 1308 L977.2 1306.8 L978.4 1305.6 L979.7 1304.4 L980.9 1303.3 L982.2 1302.1 L983.4 1300.9 L984.7 1299.8 L986 1298.6 L987.2 1297.5 L988.5 1296.3 L989.7 1295.2 L991 1294 L992.3 1292.8 L993.5 1291.7 L994.8 1290.5 L996.1 1289.4 L997.4 1288.2 L998.7 1287 L999.9 1285.9 L1001.2 1284.7 L1002.4 1283.6 L1003.6 1282.4 L1004.8 1281.2 L1006 1280 L1007.1 1278.9 L1008.1 1277.7 L1009.2 1276.6 L1010.2 1275.4 L1011.2 1274.2 L1012.2 1273.1 L1013.2 1271.9 L1014.2 1270.7 L1015.2 1269.6 L1016.1 1268.4 L1017.1 1267.2 L1018 1266 L1018.9 1264.9 L1019.8 1263.8 L1020.6 1262.7 L1021.5 1261.6 L1022.4 1260.6 L1023.2 1259.5 L1024 1258.4 L1024.8 1257.2 L1025.6 1256 L1026.4 1254.8 L1027.2 1253.4 L1028 1252 L1029.1 1249.9 L1030.1 1247.5 L1031.1 1245.1 L1032.1 1242.6 L1033.1 1239.9 L1034.1 1237.2 L1035 1234.4 L1035.9 1231.5 L1036.8 1228.6 L1037.7 1225.7 L1038.6 1222.9 L1039.5 1220 L1040.5 1216.9 L1041.4 1213.8 L1042.3 1210.6 L1043.3 1207.5 L1044.2 1204.3 L1045 1201 L1045.9 1197.7 L1046.8 1194.4 L1047.6 1190.9 L1048.4 1187.4 L1049.2 1183.8 L1050 1180 L1051 1174.9 L1051.9 1169.7 L1052.8 1164.2 L1053.7 1158.7 L1054.5 1152.9 L1055.3 1147.1 L1056.1 1141.1 L1056.9 1135.1 L1057.7 1128.9 L1058.5 1122.7 L1059.3 1116.4 L1060.1 1110 L1061.1 1102.2 L1062.1 1094.1 L1063.1 1085.9 L1064.1 1077.6 L1065.1 1069.1 L1066.1 1060.4 L1067.1 1051.7 L1068.1 1042.9 L1069.1 1034 L1070 1025 L1070.9 1016 L1071.8 1007 L1072.8 996.9 L1073.7 986.6 L1074.6 976.2 L1075.4 965.6 L1076.3 955 L1077.1 944.3 L1077.9 933.5 L1078.8 922.8 L1079.6 912 L1080.4 901.3 L1081.2 890.6 L1082 880 L1082.8 869.5 L1083.7 859 L1084.5 848.4 L1085.3 837.9 L1086.2 827.3 L1087 816.8 L1087.8 806.3 L1088.6 795.8 L1089.4 785.5 L1090.1 775.2 L1090.8 765 L1091.5 755 L1092.1 745.9 L1092.6 737 L1093.1 728.1 L1093.6 719.3 L1094 710.6 L1094.4 701.9 L1094.9 693.3 L1095.3 684.7 L1095.7 676 L1096.1 667.4 L1096.6 658.7 L1097 650 L1097.5 641.2 L1097.9 632.4 L1098.4 623.6 L1098.8 614.8 L1099.3 606 L1099.7 597.2 L1100.2 588.4 L1100.6 579.6 L1101.1 570.9 L1101.5 562.2 L1102 553.6 L1102.4 545 L1102.8 536.9 L1103.2 529 L1103.6 521.1 L1103.9 513.3 L1104.3 505.5 L1104.7 497.8 L1105 490 L1105.4 482.2 L1105.8 474.3 L1106.2 466.3 L1106.6 458.2 L1107 450 L1107.5 440.7 L1108 431.3 L1108.5 421.6 L1109.1 411.8 L1109.7 401.9 L1110.2 392 L1110.8 382.1 L1111.4 372.4 L1111.9 362.7 L1112.5 353.2 L1113 344 L1113.5 335 L1113.9 327.5 L1114.3 320 L1114.7 312.6 L1115 305.2 L1115.4 297.9 L1115.7 290.8 L1116.1 283.8 L1116.4 276.9 L1116.8 270.3 L1117.2 263.9 L1117.6 257.8 L1118 252 L1118.3 248.1 L1118.6 244.2 L1118.9 240.5 L1119.2 236.8 L1119.4 233.2 L1119.7 229.7 L1120.1 226.4 L1120.4 223.2 L1120.7 220.1 L1121.1 217.2 L1121.5 214.5 L1122 212 L1122.3 210.5 L1122.6 209 L1123 207.4 L1123.3 205.9 L1123.7 204.4 L1124.1 203.1 L1124.4 201.8 L1124.8 200.7 L1125.1 199.8 L1125.4 199.1 L1125.7 198.6 L1126 198.5 L1126.3 198.7 L1126.5 199.3 L1126.7 200.2 L1126.9 201.3 L1127.1 202.7 L1127.2 204.2 L1127.4 205.9 L1127.5 207.7 L1127.6 209.5 L1127.8 211.4 L1127.9 213.2 L1128 215 L1128.2 217.9 L1128.3 221.1 L1128.5 224.4 L1128.6 227.9 L1128.7 231.5 L1128.7 235.3 L1128.8 239.2 L1128.9 243.2 L1128.9 247.3 L1129 251.5 L1129.1 255.7 L1129.2 260 L1129.4 265.9 L1129.5 272.1 L1129.7 278.5 L1129.9 285.2 L1130.1 292 L1130.3 298.9 L1130.6 305.9 L1130.8 312.9 L1131 319.8 L1131.1 326.7 L1131.3 333.4 L1131.5 340 L1131.6 345.9 L1131.8 351.7 L1131.9 357.3 L1132 362.9 L1132.2 368.4 L1132.3 373.9 L1132.4 379.5 L1132.5 385.2 L1132.6 391.1 L1132.8 397.1 L1132.9 403.4 L1133 410 L1133.2 419.5 L1133.3 429.5 L1133.5 439.9 L1133.7 450.8 L1133.9 461.9 L1134 473.2 L1134.2 484.6 L1134.4 496 L1134.5 507.3 L1134.7 518.5 L1134.8 529.4 L1135 540 L1135.1 549.5 L1135.3 558.9 L1135.4 568.1 L1135.5 577.3 L1135.6 586.5 L1135.8 595.6 L1135.9 604.6 L1136 613.7 L1136.1 622.7 L1136.3 631.8 L1136.4 640.9 L1136.5 650 L1136.6 659.2 L1136.7 668.3 L1136.9 677.4 L1137 686.5 L1137.1 695.6 L1137.2 704.7 L1137.3 713.8 L1137.5 723 L1137.6 732.2 L1137.7 741.4 L1137.9 750.7 L1138 760 L1138.2 769.8 L1138.3 779.6 L1138.5 789.5 L1138.6 799.4 L1138.8 809.3 L1139 819.3 L1139.2 829.3 L1139.3 839.3 L1139.5 849.4 L1139.7 859.6 L1139.8 869.8 L1140 880 L1140.2 891 L1140.3 902.2 L1140.5 913.5 L1140.7 924.9 L1140.8 936.4 L1141 947.9 L1141.1 959.4 L1141.3 970.7 L1141.5 981.9 L1141.6 992.9 L1141.8 1003.6 L1142 1014 L1142.2 1022.5 L1142.3 1030.8 L1142.5 1039 L1142.6 1046.9 L1142.8 1054.8 L1142.9 1062.6 L1143.1 1070.3 L1143.3 1078.1 L1143.4 1085.9 L1143.6 1093.8 L1143.8 1101.8 L1144 1110 L1144.2 1118.9 L1144.4 1127.9 L1144.6 1137 L1144.8 1146.1 L1145 1155.3 L1145.2 1164.5 L1145.4 1173.7 L1145.6 1183 L1145.9 1192.3 L1146.2 1201.5 L1146.6 1210.8 L1147 1220 L1147.5 1229.5 L1148 1239.3 L1148.5 1249.3 L1149.1 1259.4 L1149.7 1269.5 L1150.4 1279.5 L1151.1 1289.3 L1151.7 1298.8 L1152.5 1308 L1153.2 1316.6 L1153.9 1324.6 L1154.7 1332 L1155.1 1336.1 L1155.6 1340.2 L1156 1344.1 L1156.4 1347.9 L1156.9 1351.5 L1157.3 1355 L1157.8 1358.3 L1158.3 1361.5 L1158.8 1364.4 L1159.4 1367.2 L1160 1369.7 L1160.7 1372 L1161.1 1373.1 L1161.4 1374.2 L1161.8 1375.2 L1162.1 1376.1 L1162.5 1377 L1162.9 1377.8 L1163.3 1378.6 L1163.8 1379.3 L1164.2 1380 L1164.8 1380.7 L1165.4 1381.4 L1166 1382 L1166.8 1382.6 L1167.5 1383.2 L1168.4 1383.7 L1169.3 1384.2 L1170.2 1384.7 L1171.2 1385.1 L1172.2 1385.4 L1173.3 1385.8 L1174.4 1386.1 L1175.5 1386.4 L1176.8 1386.7 L1178 1387 L1180.1 1387.4 L1182.2 1387.7 L1184.5 1387.9 L1186.9 1388.1 L1189.4 1388.2 L1192 1388.3 L1194.7 1388.3 L1197.5 1388.4 L1200.5 1388.4 L1203.5 1388.4 L1206.7 1388.4 L1210 1388.5 L1215.8 1388.6 L1222.1 1388.7 L1228.8 1388.7 L1235.8 1388.7 L1243.1 1388.7 L1250.7 1388.7 L1258.6 1388.7 L1266.6 1388.6 L1274.8 1388.6 L1283.1 1388.5 L1291.6 1388.5 L1300 1388.5 L1311.2 1388.5 L1323.1 1388.5 L1335.4 1388.5 L1348 1388.4 L1361 1388.4 L1374.1 1388.4 L1387.2 1388.4 L1400.3 1388.4 L1413.2 1388.4 L1425.9 1388.4 L1438.2 1388.4 L1450 1388.5 L1459.9 1388.6 L1469.8 1388.7 L1479.7 1388.8 L1489.5 1389 L1499.2 1389.1 L1508.7 1389.3 L1518.1 1389.4 L1527.1 1389.6 L1535.9 1389.7 L1544.3 1389.8 L1552.4 1389.9 L1560 1390 L1564.9 1390 L1569.5 1390.1 L1574 1390.1 L1578.3 1390.1 L1582.5 1390.1 L1586.6 1390.1 L1590.5 1390.1 L1594.5 1390.1 L1598.3 1390.1 L1602.2 1390.1 L1606.1 1390 L1610 1390 L1613.5 1389.9 L1616.9 1389.9 L1620.2 1389.8 L1623.5 1389.7 L1626.8 1389.6 L1630 1389.5 L1633.2 1389.4 L1636.5 1389.3 L1639.8 1389.2 L1643.1 1389.1 L1646.5 1389.1 L1650 1389 L1654 1388.9 L1658 1388.9 L1662 1388.8 L1666.1 1388.8 L1670.2 1388.8 L1674.4 1388.8 L1678.6 1388.7 L1682.8 1388.7 L1687 1388.7 L1691.3 1388.6 L1695.7 1388.6 L1700 1388.5 L1704.9 1388.4 L1709.9 1388.3 L1715.1 1388.2 L1720.4 1388.1 L1725.7 1388 L1730.9 1387.9 L1736.2 1387.7 L1741.3 1387.6 L1746.3 1387.4 L1751.1 1387.3 L1755.7 1387.2 L1760 1387 L1762.9 1386.9 L1765.6 1386.8 L1768.3 1386.6 L1770.9 1386.5 L1773.4 1386.4 L1775.8 1386.3 L1778.2 1386.1 L1780.6 1386 L1782.9 1385.9 L1785.3 1385.7 L1787.6 1385.6 L1790 1385.5 L1792.1 1385.4 L1794.2 1385.3 L1796.3 1385.2 L1798.3 1385 L1800.4 1384.9 L1802.4 1384.8 L1804.4 1384.7 L1806.4 1384.6 L1808.5 1384.5 L1810.6 1384.4 L1812.8 1384.3 L1815 1384.2 L1817.7 1384.1 L1820.5 1384 L1823.4 1384 L1826.4 1383.9 L1829.4 1383.8 L1832.4 1383.8 L1835.4 1383.8 L1838.4 1383.7 L1841.4 1383.7 L1844.3 1383.7 L1847.2 1383.6 L1850 1383.6 L1852.4 1383.6 L1854.8 1383.6 L1857.2 1383.6 L1859.6 1383.6 L1861.9 1383.6 L1864.2 1383.6 L1866.5 1383.6 L1868.8 1383.6 L1871.1 1383.6 L1873.4 1383.6 L1875.7 1383.6 L1878 1383.6"/>
<path stroke="#0000ff" d="M346.1 1393.8 L347.7 1393.9 L349.3 1393.9 L350.9 1393.9 L352.5 1394 L354.1 1394 L355.7 1394 L357.3 1394.1 L358.9 1394.1 L360.4 1394.2 L362 1394.3 L363.5 1394.4 L365 1394.5 L366.3 1394.6 L367.6 1394.8 L368.9 1394.9 L370.2 1395.1 L371.5 1395.3 L372.8 1395.5 L374 1395.7 L375.3 1395.9 L376.5 1396 L377.7 1396.2 L378.9 1396.4 L380 1396.5 L380.9 1396.6 L381.8 1396.7 L382.7 1396.8 L383.6 1396.9 L384.4 1397 L385.3 1397.1 L386.1 1397.1 L387 1397.2 L387.8 1397.3 L388.7 1397.3 L389.5 1397.3 L390.4 1397.3 L391.3 1397.3 L392.3 1397.2 L393.3 1397.2 L394.3 1397.1 L395.2 1397 L396.2 1396.9 L397.2 1396.8 L398.2 1396.7 L399.2 1396.5 L400.1 1396.4 L401.1 1396.2 L402 1396 L402.9 1395.8 L403.7 1395.5 L404.5 1395.3 L405.4 1395 L406.2 1394.7 L407 1394.4 L407.8 1394.1 L408.6 1393.8 L409.4 1393.4 L410.3 1393.1 L411.1 1392.8 L412 1392.5 L413 1392.2 L414.1 1391.8 L415.1 1391.5 L416.2 1391.1 L417.2 1390.8 L418.3 1390.5 L419.4 1390.1 L420.5 1389.8 L421.6 1389.5 L422.8 1389.1 L423.9 1388.8 L425 1388.5 L426.2 1388.2 L427.4 1387.8 L428.7 1387.5 L430 1387.2 L431.2 1386.9 L432.5 1386.6 L433.8 1386.3 L435.1 1386 L436.3 1385.7 L437.6 1385.4 L438.8 1385.2 L440 1385 L441 1384.8 L442 1384.7 L443 1384.5 L444 1384.4 L444.9 1384.3 L445.8 1384.2 L446.8 1384.1 L447.8 1384 L448.8 1383.9 L449.8 1383.8 L450.9 1383.8 L452 1383.7 L453.6 1383.6 L455.3 1383.6 L457.1 1383.5 L459 1383.5 L460.9 1383.4 L462.8 1383.4 L464.7 1383.4 L466.7 1383.5 L468.6 1383.5 L470.5 1383.5 L472.3 1383.6 L474 1383.7 L475.4 1383.8 L476.8 1383.9 L478.2 1384 L479.6 1384.1 L480.9 1384.2 L482.2 1384.4 L483.5 1384.5 L484.8 1384.7 L486.1 1384.9 L487.4 1385.1 L488.7 1385.3 L490 1385.5 L491.3 1385.7 L492.5 1386 L493.8 1386.3 L495.1 1386.6 L496.3 1386.9 L497.6 1387.2 L498.9 1387.6 L500.1 1387.9 L501.3 1388.2 L502.6 1388.5 L503.8 1388.8 L505 1389 L506.1 1389.2 L507.2 1389.4 L508.3 1389.6 L509.3 1389.8 L510.4 1390 L511.4 1390.2 L512.5 1390.3 L513.6 1390.5 L514.6 1390.6 L515.7 1390.8 L516.9 1390.9 L518 1391 L519.3 1391.1 L520.7 1391.2 L522 1391.3 L523.4 1391.3 L524.8 1391.3 L526.1 1391.4 L527.6 1391.4 L529 1391.4 L530.5 1391.4 L532 1391.4 L533.5 1391.5 L535 1391.5 L536.9 1391.5 L538.8 1391.6 L540.7 1391.6 L542.6 1391.7 L544.5 1391.7 L546.5 1391.8 L548.6 1391.8 L550.7 1391.9 L552.9 1391.9 L555.2 1391.9 L557.5 1392 L560 1392 L564.1 1392 L568.5 1392.1 L573.2 1392.1 L578.1 1392.2 L583.2 1392.2 L588.4 1392.2 L593.7 1392.2 L599 1392.3 L604.4 1392.3 L609.7 1392.3 L614.9 1392.3 L620 1392.3 L625 1392.3 L630.1 1392.3 L635.3 1392.2 L640.4 1392.2 L645.6 1392.1 L650.8 1392.1 L655.9 1392 L660.9 1392 L665.9 1392 L670.7 1392 L675.4 1392 L680 1392 L683.6 1392 L687.1 1392.1 L690.5 1392.2 L693.8 1392.3 L697 1392.4 L700.2 1392.5 L703.4 1392.6 L706.6 1392.7 L709.9 1392.8 L713.2 1392.9 L716.5 1392.9 L720 1393 L724 1393 L728 1393.1 L732 1393.1 L736.1 1393.2 L740.2 1393.2 L744.4 1393.2 L748.6 1393.2 L752.8 1393.2 L757.1 1393.2 L761.3 1393.1 L765.7 1393.1 L770 1393 L774.8 1392.9 L779.8 1392.8 L784.9 1392.7 L790 1392.6 L795.2 1392.4 L800.4 1392.2 L805.6 1392.1 L810.7 1391.9 L815.7 1391.7 L820.6 1391.5 L825.4 1391.2 L830 1391 L833.6 1390.8 L837.2 1390.6 L840.7 1390.4 L844.2 1390.2 L847.5 1390 L850.9 1389.8 L854.2 1389.6 L857.4 1389.4 L860.6 1389.1 L863.8 1388.8 L866.9 1388.4 L870 1388 L872.7 1387.6 L875.3 1387.2 L877.9 1386.8 L880.5 1386.4 L883 1385.9 L885.5 1385.4 L888 1384.9 L890.4 1384.4 L892.8 1383.8 L895.2 1383.3 L897.6 1382.6 L900 1382 L902.2 1381.4 L904.4 1380.7 L906.5 1380.1 L908.7 1379.4 L910.8 1378.7 L912.9 1378 L915 1377.2 L917.1 1376.4 L919.1 1375.6 L921.1 1374.8 L923.1 1373.9 L925 1373 L926.8 1372.1 L928.6 1371.2 L930.3 1370.3 L932 1369.4 L933.7 1368.4 L935.4 1367.5 L937 1366.5 L938.7 1365.4 L940.3 1364.4 L941.9 1363.3 L943.4 1362.2 L945 1361 L946.5 1359.8 L948 1358.6 L949.5 1357.4 L951 1356.2 L952.4 1354.9 L953.8 1353.6 L955.2 1352.3 L956.6 1350.9 L958 1349.5 L959.3 1348 L960.7 1346.5 L962 1345 L963.5 1343.1 L965.1 1341.2 L966.6 1339.1 L968.1 1337 L969.7 1334.8 L971.1 1332.6 L972.6 1330.4 L974 1328.2 L975.4 1326 L976.7 1323.9 L977.9 1321.8 L979.1 1319.9 L980 1318.5 L980.8 1317 L981.5 1315.6 L982.3 1314.3 L983 1312.9 L983.7 1311.6 L984.3 1310.3 L985 1308.9 L985.6 1307.7 L986.2 1306.4 L986.9 1305.1 L987.5 1303.9 L988 1302.9 L988.5 1301.9 L989 1300.9 L989.5 1300 L990 1299.1 L990.4 1298.2 L990.9 1297.3 L991.4 1296.3 L991.9 1295.3 L992.4 1294.3 L992.9 1293.2 L993.4 1292.1 L994.2 1290.3 L995.1 1288.4 L996 1286.3 L996.9 1284.2 L997.9 1282 L998.8 1279.7 L999.8 1277.5 L1000.8 1275.2 L1001.7 1273 L1002.6 1270.8 L1003.5 1268.8 L1004.3 1266.8 L1004.9 1265.3 L1005.5 1263.9 L1006.1 1262.5 L1006.7 1261.1 L1007.3 1259.8 L1007.8 1258.5 L1008.4 1257.2 L1008.9 1255.9 L1009.5 1254.5 L1010 1253.1 L1010.6 1251.6 L1011.1 1250 L1011.8 1247.8 L1012.5 1245.6 L1013.2 1243.2 L1013.9 1240.8 L1014.6 1238.4 L1015.2 1235.8 L1015.9 1233.3 L1016.6 1230.7 L1017.2 1228 L1017.9 1225.4 L1018.5 1222.7 L1019.2 1220 L1020 1216.9 L1020.7 1213.8 L1021.4 1210.7 L1022.1 1207.5 L1022.9 1204.3 L1023.6 1201.1 L1024.3 1197.8 L1025 1194.4 L1025.8 1190.9 L1026.5 1187.4 L1027.3 1183.7 L1028.1 1180 L1029.2 1174.9 L1030.3 1169.6 L1031.4 1164.2 L1032.6 1158.7 L1033.8 1153 L1035 1147.1 L1036.2 1141.2 L1037.4 1135.1 L1038.6 1129 L1039.7 1122.7 L1040.8 1116.4 L1041.9 1110 L1043.2 1102 L1044.4 1093.9 L1045.6 1085.5 L1046.8 1077 L1048 1068.3 L1049.2 1059.4 L1050.3 1050.5 L1051.4 1041.5 L1052.5 1032.4 L1053.5 1023.3 L1054.6 1014.1 L1055.6 1005 L1056.7 995 L1057.7 984.8 L1058.8 974.5 L1059.7 964.2 L1060.7 953.7 L1061.7 943.2 L1062.6 932.7 L1063.5 922.1 L1064.4 911.5 L1065.3 901 L1066.1 890.5 L1067 880 L1067.9 869.6 L1068.7 859 L1069.5 848.5 L1070.3 837.9 L1071.1 827.4 L1071.9 816.8 L1072.7 806.3 L1073.5 795.9 L1074.2 785.5 L1075 775.2 L1075.7 765 L1076.4 755 L1077 745.9 L1077.7 737 L1078.3 728.1 L1078.9 719.3 L1079.5 710.6 L1080.1 701.9 L1080.7 693.3 L1081.2 684.7 L1081.8 676 L1082.4 667.4 L1082.9 658.7 L1083.5 650 L1084.1 641.3 L1084.6 632.5 L1085.2 623.8 L1085.7 615 L1086.2 606.3 L1086.8 597.5 L1087.3 588.8 L1087.8 580 L1088.3 571.3 L1088.8 562.5 L1089.3 553.8 L1089.8 545 L1090.3 536.3 L1090.7 527.5 L1091.2 518.8 L1091.6 510 L1092 501.3 L1092.4 492.5 L1092.9 483.8 L1093.3 475 L1093.7 466.2 L1094.1 457.5 L1094.6 448.7 L1095 440 L1095.5 431.3 L1095.9 422.6 L1096.4 413.9 L1096.8 405.2 L1097.3 396.5 L1097.8 387.8 L1098.2 379.1 L1098.7 370.4 L1099.2 361.6 L1099.7 352.8 L1100.2 343.9 L1100.7 335 L1101.2 325.4 L1101.8 315.6 L1102.4 305.5 L1103 295.3 L1103.6 285.1 L1104.2 274.9 L1104.8 264.8 L1105.4 255 L1106 245.6 L1106.6 236.5 L1107.1 227.9 L1107.6 220 L1107.9 215.1 L1108.2 210.3 L1108.5 205.7 L1108.7 201.2 L1109 196.9 L1109.2 192.7 L1109.5 188.7 L1109.7 184.7 L1110 180.9 L1110.3 177.2 L1110.6 173.5 L1111 170 L1111.3 167.3 L1111.6 164.5 L1111.9 161.5 L1112.2 158.6 L1112.6 155.7 L1112.9 152.9 L1113.3 150.4 L1113.6 148.1 L1114 146.2 L1114.3 144.8 L1114.7 143.8 L1115 143.5 L1115.3 143.8 L1115.7 144.8 L1116 146.2 L1116.4 148.1 L1116.7 150.4 L1117.1 152.9 L1117.4 155.7 L1117.8 158.6 L1118.1 161.5 L1118.4 164.5 L1118.7 167.3 L1119 170 L1119.4 173.5 L1119.7 177.2 L1120 180.9 L1120.2 184.7 L1120.5 188.6 L1120.7 192.6 L1120.9 196.8 L1121.2 201.1 L1121.4 205.6 L1121.6 210.2 L1121.8 215 L1122 220 L1122.3 228.2 L1122.7 237.1 L1123 246.6 L1123.3 256.5 L1123.6 266.8 L1123.8 277.3 L1124.1 288.1 L1124.4 298.8 L1124.6 309.6 L1124.9 320.1 L1125.1 330.5 L1125.4 340.5 L1125.6 349.8 L1125.9 359.1 L1126.1 368.4 L1126.3 377.7 L1126.6 386.9 L1126.8 396.1 L1127 405.2 L1127.2 414.3 L1127.4 423.3 L1127.6 432.3 L1127.8 441.2 L1128 450 L1128.2 458.1 L1128.3 466.2 L1128.5 474.1 L1128.7 482 L1128.8 489.8 L1129 497.6 L1129.1 505.4 L1129.2 513.2 L1129.4 521.1 L1129.5 529 L1129.7 536.9 L1129.8 545 L1129.9 553.6 L1130.1 562.2 L1130.2 570.8 L1130.3 579.5 L1130.4 588.3 L1130.6 597 L1130.7 605.8 L1130.8 614.6 L1130.9 623.5 L1131 632.3 L1131.2 641.1 L1131.3 650 L1131.4 659.1 L1131.6 668.1 L1131.7 677.2 L1131.8 686.3 L1132 695.4 L1132.1 704.5 L1132.3 713.7 L1132.4 722.9 L1132.6 732.1 L1132.7 741.4 L1132.9 750.7 L1133 760 L1133.2 769.8 L1133.3 779.7 L1133.5 789.6 L1133.7 799.5 L1133.8 809.5 L1134 819.5 L1134.2 829.5 L1134.3 839.6 L1134.5 849.6 L1134.7 859.7 L1134.8 869.9 L1135 880 L1135.2 890.5 L1135.3 901.1 L1135.5 911.8 L1135.6 922.6 L1135.8 933.3 L1136 944.1 L1136.1 954.8 L1136.3 965.5 L1136.5 976.1 L1136.6 986.6 L1136.8 996.9 L1137 1007 L1137.2 1016 L1137.4 1024.8 L1137.5 1033.4 L1137.7 1042 L1137.9 1050.5 L1138.1 1059 L1138.3 1067.4 L1138.5 1075.8 L1138.7 1084.3 L1138.9 1092.8 L1139.1 1101.3 L1139.3 1110 L1139.5 1119 L1139.6 1128.1 L1139.8 1137.2 L1139.9 1146.4 L1140 1155.5 L1140.2 1164.7 L1140.3 1173.9 L1140.5 1183.1 L1140.7 1192.3 L1140.9 1201.6 L1141.1 1210.8 L1141.4 1220 L1141.7 1229.5 L1142.1 1239.3 L1142.5 1249.3 L1142.9 1259.4 L1143.3 1269.5 L1143.8 1279.5 L1144.3 1289.3 L1144.8 1298.8 L1145.3 1308 L1145.8 1316.6 L1146.3 1324.6 L1146.8 1332 L1147.1 1336.1 L1147.4 1340.2 L1147.6 1344.2 L1147.8 1348 L1148.1 1351.7 L1148.4 1355.2 L1148.6 1358.6 L1149 1361.7 L1149.3 1364.7 L1149.7 1367.4 L1150.2 1369.8 L1150.8 1372 L1151.1 1372.9 L1151.4 1373.8 L1151.7 1374.6 L1152 1375.3 L1152.3 1376 L1152.6 1376.7 L1152.9 1377.3 L1153.3 1377.9 L1153.7 1378.4 L1154.1 1379 L1154.5 1379.5 L1155 1380 L1155.5 1380.5 L1156 1380.9 L1156.5 1381.3 L1157 1381.7 L1157.6 1382.1 L1158.1 1382.5 L1158.7 1382.8 L1159.3 1383.1 L1160 1383.4 L1160.6 1383.7 L1161.3 1384 L1162 1384.3 L1162.9 1384.7 L1163.9 1385 L1164.9 1385.3 L1166 1385.6 L1167 1385.8 L1168.1 1386.1 L1169.3 1386.3 L1170.4 1386.5 L1171.6 1386.7 L1172.7 1386.9 L1173.9 1387.1 L1175 1387.3 L1176.2 1387.5 L1177.3 1387.6 L1178.3 1387.8 L1179.4 1387.9 L1180.5 1388 L1181.6 1388 L1182.7 1388.1 L1183.9 1388.2 L1185.2 1388.3 L1186.7 1388.3 L1188.3 1388.4 L1190 1388.5 L1195.5 1388.7 L1202.1 1388.9 L1209.6 1389.1 L1217.9 1389.3 L1227 1389.5 L1236.6 1389.6 L1246.7 1389.8 L1257.2 1389.9 L1267.8 1390 L1278.6 1390.1 L1289.4 1390.2 L1300 1390.3 L1314.6 1390.4 L1329.9 1390.5 L1345.8 1390.5 L1362.3 1390.5 L1379.1 1390.5 L1396.3 1390.5 L1413.7 1390.5 L1431.1 1390.5 L1448.6 1390.4 L1466 1390.4 L1483.1 1390.3 L1500 1390.3 L1516.9 1390.3 L1534.1 1390.2 L1551.6 1390.2 L1569.2 1390.2 L1586.8 1390.1 L1604.3 1390.1 L1621.5 1390 L1638.4 1389.9 L1654.8 1389.9 L1670.6 1389.8 L1685.7 1389.7 L1700 1389.6 L1709.5 1389.5 L1718.7 1389.4 L1727.5 1389.4 L1736 1389.3 L1744.2 1389.2 L1752.3 1389.1 L1760.3 1389 L1768.1 1388.9 L1776 1388.8 L1783.9 1388.7 L1791.9 1388.6 L1800 1388.5 L1808 1388.4 L1816 1388.3 L1823.9 1388.3 L1831.8 1388.2 L1839.8 1388.1 L1847.7 1388 L1855.5 1388 L1863.4 1387.9 L1871.3 1387.8 L1879.2 1387.7 L1887.1 1387.7 L1895 1387.6"/>
<path stroke="#00ffff" d="M357 1387.5 L358.1 1387.5 L359.2 1387.5 L360.3 1387.6 L361.5 1387.6 L362.6 1387.6 L363.7 1387.7 L364.8 1387.7 L365.9 1387.7 L367 1387.7 L368 1387.7 L369 1387.6 L370 1387.5 L370.7 1387.4 L371.5 1387.3 L372.2 1387.2 L372.9 1387.1 L373.6 1387 L374.3 1386.8 L374.9 1386.7 L375.6 1386.5 L376.2 1386.3 L376.8 1386.1 L377.4 1385.8 L378 1385.5 L378.6 1385.2 L379.1 1384.8 L379.6 1384.3 L380.1 1383.8 L380.6 1383.3 L381.1 1382.8 L381.6 1382.3 L382 1381.8 L382.5 1381.3 L383 1380.8 L383.5 1380.4 L384 1380 L384.5 1379.7 L385 1379.3 L385.4 1379 L385.9 1378.7 L386.4 1378.4 L386.9 1378.1 L387.4 1377.9 L387.9 1377.6 L388.4 1377.4 L388.9 1377.2 L389.5 1377.1 L390 1377 L390.6 1376.9 L391.2 1376.9 L391.9 1377 L392.5 1377.1 L393.2 1377.2 L393.8 1377.3 L394.5 1377.5 L395.2 1377.7 L395.9 1377.9 L396.6 1378.1 L397.3 1378.3 L398 1378.5 L398.9 1378.8 L399.9 1379.1 L400.9 1379.5 L401.9 1379.9 L402.9 1380.3 L403.9 1380.8 L405 1381.2 L406.1 1381.6 L407.2 1382.1 L408.3 1382.5 L409.4 1382.9 L410.6 1383.2 L412.1 1383.6 L413.7 1383.9 L415.3 1384.3 L416.9 1384.6 L418.6 1384.9 L420.4 1385.2 L422.1 1385.5 L423.8 1385.8 L425.6 1386 L427.3 1386.3 L429 1386.5 L430.7 1386.8 L432.3 1387.1 L433.9 1387.3 L435.5 1387.6 L437.1 1387.8 L438.7 1388.1 L440.3 1388.3 L441.9 1388.5 L443.5 1388.7 L445.1 1388.9 L446.7 1389.1 L448.4 1389.3 L450 1389.5 L451.7 1389.7 L453.3 1389.8 L455 1390 L456.6 1390.1 L458.2 1390.2 L459.9 1390.3 L461.6 1390.4 L463.3 1390.5 L465.1 1390.6 L467 1390.7 L468.9 1390.7 L471 1390.8 L474.4 1390.9 L478 1391 L481.8 1391 L485.8 1391.1 L489.9 1391.1 L494.2 1391.1 L498.5 1391.1 L502.9 1391.1 L507.2 1391.1 L511.6 1391.1 L515.8 1391 L520 1391 L524.2 1390.9 L528.4 1390.9 L532.7 1390.8 L537 1390.7 L541.3 1390.6 L545.5 1390.5 L549.8 1390.4 L554 1390.3 L558.1 1390.1 L562.2 1389.9 L566.1 1389.7 L570 1389.5 L573.2 1389.3 L576.3 1389 L579.3 1388.6 L582.4 1388.3 L585.3 1387.9 L588.3 1387.5 L591.1 1387.2 L594 1386.8 L596.8 1386.5 L599.6 1386.3 L602.3 1386.1 L605 1386 L607.2 1386 L609.4 1386.1 L611.5 1386.2 L613.6 1386.3 L615.6 1386.5 L617.6 1386.7 L619.6 1386.9 L621.7 1387.1 L623.7 1387.3 L625.8 1387.4 L627.9 1387.5 L630 1387.5 L632.4 1387.5 L634.8 1387.4 L637.2 1387.3 L639.6 1387.1 L642.1 1386.9 L644.6 1386.7 L647.1 1386.5 L649.6 1386.2 L652.1 1386 L654.7 1385.7 L657.3 1385.3 L660 1385 L663.2 1384.5 L666.4 1384 L669.7 1383.3 L673.1 1382.6 L676.6 1381.8 L680 1381.1 L683.4 1380.3 L686.9 1379.7 L690.3 1379.1 L693.6 1378.6 L696.8 1378.2 L700 1378 L702.6 1377.9 L705.2 1377.9 L707.8 1378 L710.3 1378.1 L712.8 1378.3 L715.3 1378.6 L717.8 1378.9 L720.2 1379.2 L722.6 1379.6 L725.1 1380 L727.5 1380.5 L730 1381 L732.5 1381.6 L735 1382.4 L737.4 1383.2 L739.9 1384.2 L742.3 1385.1 L744.7 1386.2 L747.2 1387.1 L749.6 1388.1 L752.1 1389 L754.7 1389.8 L757.3 1390.5 L760 1391 L763.1 1391.4 L766.2 1391.7 L769.4 1391.9 L772.7 1391.9 L776 1391.9 L779.3 1391.8 L782.7 1391.7 L786.1 1391.6 L789.5 1391.4 L793 1391.2 L796.5 1391.1 L800 1391 L804 1390.9 L808.1 1390.8 L812.2 1390.8 L816.5 1390.7 L820.7 1390.6 L825 1390.4 L829.3 1390.3 L833.6 1390.1 L837.8 1389.9 L841.9 1389.6 L846 1389.3 L850 1389 L853.5 1388.7 L857.1 1388.3 L860.6 1387.9 L864.1 1387.5 L867.5 1387.1 L870.9 1386.7 L874.3 1386.2 L877.6 1385.7 L880.8 1385.1 L884 1384.4 L887 1383.8 L890 1383 L892.3 1382.3 L894.6 1381.6 L896.9 1380.9 L899.1 1380.1 L901.3 1379.3 L903.4 1378.5 L905.4 1377.6 L907.4 1376.8 L909.4 1375.8 L911.3 1374.9 L913.2 1374 L915 1373 L916.5 1372.2 L917.9 1371.3 L919.2 1370.5 L920.5 1369.6 L921.8 1368.8 L923.1 1367.9 L924.3 1366.9 L925.5 1366 L926.8 1365 L928 1364.1 L929.2 1363 L930.5 1362 L931.9 1360.8 L933.4 1359.6 L934.9 1358.3 L936.4 1357 L937.9 1355.7 L939.4 1354.3 L940.8 1352.9 L942.3 1351.5 L943.6 1350.1 L944.9 1348.8 L946.2 1347.4 L947.3 1346 L948.2 1344.9 L949 1343.7 L949.8 1342.6 L950.5 1341.4 L951.2 1340.3 L951.9 1339.1 L952.6 1338 L953.2 1336.8 L953.8 1335.6 L954.5 1334.4 L955.1 1333.2 L955.8 1332 L956.5 1330.6 L957.3 1329.3 L958 1327.9 L958.7 1326.5 L959.4 1325 L960.1 1323.6 L960.8 1322.1 L961.4 1320.7 L962.1 1319.2 L962.8 1317.7 L963.5 1316.3 L964.2 1314.8 L964.9 1313.3 L965.6 1311.8 L966.3 1310.2 L967 1308.7 L967.7 1307.2 L968.4 1305.6 L969.1 1304.1 L969.8 1302.6 L970.5 1301 L971.2 1299.4 L971.9 1297.9 L972.6 1296.3 L973.3 1294.7 L974 1293 L974.7 1291.4 L975.4 1289.7 L976.1 1288.1 L976.8 1286.4 L977.5 1284.7 L978.2 1283.1 L978.9 1281.4 L979.6 1279.8 L980.3 1278.1 L981 1276.5 L981.7 1275 L982.4 1273.5 L983.1 1272 L983.8 1270.5 L984.5 1269.1 L985.2 1267.7 L985.9 1266.2 L986.6 1264.7 L987.3 1263.1 L988 1261.5 L988.7 1259.8 L989.4 1258 L990.4 1255.3 L991.4 1252.5 L992.3 1249.5 L993.3 1246.4 L994.3 1243.2 L995.3 1240 L996.3 1236.6 L997.3 1233.3 L998.2 1229.9 L999.2 1226.6 L1000.1 1223.3 L1001 1220 L1001.9 1216.7 L1002.7 1213.5 L1003.5 1210.3 L1004.3 1207.2 L1005.1 1204 L1005.9 1200.7 L1006.6 1197.5 L1007.5 1194.2 L1008.3 1190.8 L1009.2 1187.3 L1010.2 1183.7 L1011.2 1180 L1012.7 1174.8 L1014.3 1169.4 L1016.1 1163.7 L1017.9 1157.9 L1019.8 1151.9 L1021.8 1145.9 L1023.7 1139.8 L1025.7 1133.6 L1027.7 1127.6 L1029.6 1121.6 L1031.5 1115.7 L1033.3 1110 L1034.9 1104.8 L1036.6 1099.7 L1038.2 1094.5 L1039.8 1089.4 L1041.4 1084.3 L1043 1079.3 L1044.6 1074.3 L1046.1 1069.3 L1047.6 1064.4 L1049.1 1059.5 L1050.6 1054.7 L1052 1050 L1053.2 1046 L1054.4 1042.1 L1055.6 1038.4 L1056.7 1034.8 L1057.9 1031.2 L1059 1027.6 L1060.1 1024 L1061.1 1020.2 L1062.2 1016.3 L1063.2 1012.1 L1064.3 1007.7 L1065.3 1003 L1066.9 994.8 L1068.4 985.9 L1069.9 976.4 L1071.4 966.4 L1072.8 956 L1074.2 945.3 L1075.5 934.3 L1076.9 923.3 L1078.2 912.2 L1079.4 901.3 L1080.7 890.5 L1082 880 L1083.3 869.6 L1084.5 859.1 L1085.8 848.6 L1087 838 L1088.2 827.5 L1089.4 816.9 L1090.5 806.4 L1091.6 795.9 L1092.7 785.5 L1093.8 775.2 L1094.9 765 L1095.9 755 L1096.8 745.9 L1097.7 737 L1098.6 728.1 L1099.4 719.3 L1100.2 710.6 L1101 701.9 L1101.8 693.3 L1102.6 684.7 L1103.3 676 L1104 667.4 L1104.8 658.7 L1105.5 650 L1106.2 641.2 L1106.9 632.2 L1107.6 623.2 L1108.2 614.1 L1108.9 605 L1109.5 595.9 L1110.2 587 L1110.8 578.1 L1111.4 569.5 L1112 561 L1112.6 552.9 L1113.2 545 L1113.7 539 L1114.1 533.2 L1114.6 527.5 L1115 521.9 L1115.5 516.4 L1115.9 511 L1116.3 505.7 L1116.8 500.5 L1117.2 495.3 L1117.6 490.2 L1118.1 485.1 L1118.5 480 L1118.9 475.5 L1119.2 471 L1119.6 466.5 L1119.9 462 L1120.3 457.5 L1120.6 453.2 L1121 448.9 L1121.3 444.7 L1121.7 440.7 L1122.1 436.9 L1122.5 433.3 L1123 430 L1123.3 428 L1123.6 426 L1123.9 424 L1124.1 422.1 L1124.4 420.2 L1124.7 418.5 L1125.1 416.8 L1125.4 415.2 L1125.7 413.7 L1126.1 412.3 L1126.5 411.1 L1127 410 L1127.3 409.5 L1127.5 408.9 L1127.8 408.4 L1128.1 407.9 L1128.4 407.4 L1128.7 406.9 L1129 406.5 L1129.3 406.2 L1129.6 405.9 L1129.9 405.7 L1130.1 405.6 L1130.4 405.6 L1130.7 405.7 L1131 406.1 L1131.3 406.5 L1131.6 407.1 L1131.9 407.9 L1132.1 408.7 L1132.4 409.6 L1132.6 410.6 L1132.8 411.7 L1133.1 412.8 L1133.3 413.9 L1133.5 415 L1133.9 417.9 L1134.3 421.4 L1134.6 425.3 L1134.9 429.5 L1135.1 434.1 L1135.2 439 L1135.3 444 L1135.5 449.2 L1135.6 454.4 L1135.7 459.7 L1135.8 464.9 L1136 470 L1136.2 476.1 L1136.4 482.4 L1136.6 488.7 L1136.8 495.2 L1137 501.8 L1137.1 508.5 L1137.3 515.3 L1137.5 522.1 L1137.7 529 L1137.8 536 L1138 543 L1138.2 550 L1138.4 557.9 L1138.6 566 L1138.8 574.2 L1139.1 582.4 L1139.3 590.8 L1139.5 599.2 L1139.7 607.6 L1139.9 616.1 L1140.2 624.6 L1140.4 633.1 L1140.6 641.5 L1140.8 650 L1141 658.6 L1141.2 667.2 L1141.5 675.9 L1141.7 684.5 L1141.9 693.1 L1142.1 701.8 L1142.3 710.5 L1142.6 719.2 L1142.8 728 L1143 736.9 L1143.2 745.9 L1143.4 755 L1143.6 765 L1143.8 775.2 L1144 785.5 L1144.2 795.8 L1144.4 806.3 L1144.6 816.8 L1144.8 827.3 L1145 837.9 L1145.2 848.4 L1145.4 859 L1145.6 869.5 L1145.8 880 L1146 890.6 L1146.2 901.3 L1146.4 912 L1146.6 922.8 L1146.8 933.5 L1147 944.3 L1147.2 955 L1147.4 965.6 L1147.6 976.2 L1147.8 986.6 L1148 996.9 L1148.2 1007 L1148.4 1016 L1148.6 1024.8 L1148.8 1033.5 L1149 1042.1 L1149.2 1050.6 L1149.4 1059.1 L1149.6 1067.6 L1149.8 1076 L1150 1084.4 L1150.2 1092.9 L1150.4 1101.4 L1150.6 1110 L1150.8 1118.8 L1151 1127.6 L1151.2 1136.6 L1151.4 1145.6 L1151.6 1154.6 L1151.8 1163.5 L1152 1172.5 L1152.2 1181.3 L1152.5 1190 L1152.8 1198.5 L1153.1 1206.9 L1153.4 1215 L1153.7 1221.8 L1154 1228.5 L1154.4 1235.1 L1154.7 1241.7 L1155.1 1248.2 L1155.5 1254.6 L1155.8 1260.9 L1156.2 1267.1 L1156.7 1273.1 L1157.1 1278.9 L1157.5 1284.6 L1158 1290 L1158.4 1294 L1158.7 1297.9 L1159.1 1301.7 L1159.4 1305.4 L1159.8 1309 L1160.2 1312.6 L1160.6 1316 L1161 1319.4 L1161.4 1322.7 L1161.8 1325.9 L1162.3 1329 L1162.7 1332 L1163 1334.2 L1163.4 1336.3 L1163.7 1338.3 L1164 1340.3 L1164.4 1342.3 L1164.7 1344.2 L1165.1 1346 L1165.4 1347.9 L1165.8 1349.7 L1166.2 1351.5 L1166.6 1353.2 L1167 1355 L1167.4 1356.5 L1167.7 1358.1 L1168.1 1359.6 L1168.4 1361.1 L1168.8 1362.6 L1169.1 1364 L1169.5 1365.4 L1169.9 1366.8 L1170.4 1368.2 L1170.9 1369.5 L1171.4 1370.8 L1172 1372 L1172.5 1373 L1173.1 1374 L1173.7 1375 L1174.3 1375.9 L1174.9 1376.8 L1175.5 1377.7 L1176.2 1378.6 L1176.9 1379.4 L1177.6 1380.2 L1178.4 1380.9 L1179.2 1381.6 L1180 1382.3 L1180.8 1382.9 L1181.7 1383.5 L1182.6 1384 L1183.5 1384.5 L1184.4 1384.9 L1185.4 1385.3 L1186.4 1385.7 L1187.4 1386.1 L1188.5 1386.4 L1189.6 1386.7 L1190.8 1387 L1192 1387.3 L1193.9 1387.7 L1195.8 1388 L1197.8 1388.2 L1199.9 1388.4 L1202.1 1388.5 L1204.3 1388.6 L1206.7 1388.7 L1209.1 1388.7 L1211.7 1388.8 L1214.4 1388.8 L1217.1 1388.9 L1220 1389 L1225.1 1389.2 L1230.5 1389.3 L1236.3 1389.4 L1242.3 1389.5 L1248.6 1389.6 L1255.2 1389.7 L1262 1389.7 L1269.1 1389.8 L1276.5 1389.8 L1284.1 1389.9 L1291.9 1389.9 L1300 1390 L1313.6 1390.1 L1328.5 1390.2 L1344.3 1390.3 L1361.1 1390.3 L1378.4 1390.4 L1396.2 1390.4 L1414.1 1390.5 L1432.1 1390.5 L1449.9 1390.5 L1467.3 1390.5 L1484.1 1390.5 L1500 1390.5 L1513.4 1390.5 L1526.7 1390.4 L1539.9 1390.3 L1553 1390.3 L1566 1390.2 L1578.7 1390.1 L1591.3 1390 L1603.6 1389.9 L1615.7 1389.8 L1627.5 1389.7 L1638.9 1389.6 L1650 1389.5 L1658.2 1389.4 L1666.1 1389.4 L1673.7 1389.3 L1681.1 1389.2 L1688.3 1389.1 L1695.4 1389.1 L1702.5 1389 L1709.6 1388.9 L1716.8 1388.9 L1724.3 1388.8 L1732 1388.7 L1740 1388.7 L1750.1 1388.7 L1760.5 1388.6 L1771.1 1388.6 L1781.9 1388.6 L1793 1388.6 L1804.1 1388.5 L1815.3 1388.5 L1826.6 1388.5 L1837.9 1388.5 L1849.1 1388.5 L1860.3 1388.5 L1871.3 1388.5"/>
<path stroke="#ff00ff" d="M356.8 1388.8 L357.9 1388.8 L359 1388.8 L360.2 1388.8 L361.3 1388.8 L362.5 1388.9 L363.6 1388.9 L364.7 1388.9 L365.8 1388.9 L366.9 1388.9 L368 1388.9 L369 1388.8 L370 1388.8 L370.7 1388.8 L371.5 1388.7 L372.2 1388.7 L372.9 1388.7 L373.5 1388.7 L374.2 1388.7 L374.8 1388.6 L375.5 1388.6 L376.1 1388.5 L376.8 1388.3 L377.4 1388.2 L378 1388 L378.6 1387.8 L379.2 1387.5 L379.8 1387.1 L380.4 1386.8 L381 1386.4 L381.6 1386 L382.2 1385.6 L382.8 1385.2 L383.3 1384.7 L383.9 1384.3 L384.4 1383.9 L385 1383.5 L385.5 1383.1 L386 1382.7 L386.5 1382.3 L387 1381.9 L387.5 1381.5 L388 1381.1 L388.5 1380.7 L389 1380.3 L389.5 1379.9 L390 1379.6 L390.5 1379.3 L391 1379 L391.4 1378.8 L391.9 1378.6 L392.3 1378.3 L392.8 1378.2 L393.2 1378 L393.7 1377.8 L394.1 1377.7 L394.6 1377.5 L395 1377.4 L395.5 1377.3 L396 1377.3 L396.5 1377.2 L397.1 1377.2 L397.8 1377.2 L398.4 1377.2 L399 1377.3 L399.7 1377.4 L400.3 1377.5 L401 1377.7 L401.8 1377.8 L402.5 1378 L403.3 1378.2 L404.1 1378.3 L405 1378.5 L406.7 1378.8 L408.5 1379.2 L410.5 1379.6 L412.7 1380 L414.9 1380.5 L417.2 1381 L419.5 1381.4 L421.9 1381.9 L424.2 1382.4 L426.5 1382.9 L428.6 1383.3 L430.7 1383.7 L432.4 1384 L434.1 1384.3 L435.7 1384.6 L437.3 1384.9 L438.9 1385.2 L440.5 1385.4 L442 1385.7 L443.6 1386 L445.2 1386.2 L446.8 1386.5 L448.4 1386.7 L450 1387 L451.7 1387.3 L453.3 1387.6 L455 1387.9 L456.6 1388.2 L458.2 1388.5 L459.9 1388.8 L461.6 1389 L463.3 1389.3 L465.1 1389.6 L467 1389.8 L468.9 1390.1 L471 1390.3 L474.4 1390.6 L478.1 1390.9 L482.1 1391.1 L486.2 1391.4 L490.4 1391.6 L494.8 1391.7 L499.3 1391.9 L503.8 1392 L508.3 1392.1 L512.7 1392.2 L517.1 1392.3 L521.3 1392.3 L525.5 1392.3 L529.7 1392.3 L534 1392.3 L538.3 1392.2 L542.7 1392.2 L546.9 1392.1 L551.2 1392 L555.3 1391.8 L559.3 1391.7 L563.2 1391.5 L566.9 1391.3 L570.4 1391.1 L572.8 1390.9 L575.1 1390.7 L577.3 1390.5 L579.4 1390.3 L581.5 1390.1 L583.6 1389.9 L585.6 1389.6 L587.5 1389.4 L589.4 1389.2 L591.3 1388.9 L593.2 1388.7 L595 1388.5 L596.4 1388.3 L597.8 1388.1 L599.1 1387.9 L600.4 1387.7 L601.7 1387.5 L602.9 1387.2 L604.1 1387 L605.4 1386.9 L606.6 1386.7 L607.9 1386.6 L609.2 1386.5 L610.6 1386.5 L612.2 1386.6 L613.8 1386.7 L615.5 1386.9 L617.2 1387.2 L618.9 1387.5 L620.6 1387.9 L622.3 1388.2 L624 1388.5 L625.7 1388.8 L627.4 1389 L629.1 1389.2 L630.8 1389.3 L632.4 1389.3 L634 1389.3 L635.6 1389.2 L637.2 1389.1 L638.8 1388.9 L640.4 1388.7 L642 1388.5 L643.6 1388.3 L645.2 1388.1 L646.8 1387.9 L648.4 1387.7 L650 1387.5 L651.7 1387.3 L653.4 1387.1 L655.2 1386.9 L656.9 1386.7 L658.6 1386.4 L660.4 1386.2 L662.1 1386 L663.9 1385.7 L665.6 1385.5 L667.4 1385.2 L669.2 1385 L671 1384.7 L673 1384.4 L675 1384.1 L677 1383.8 L679.1 1383.5 L681.1 1383.2 L683.2 1382.8 L685.2 1382.5 L687.3 1382.2 L689.3 1381.9 L691.2 1381.6 L693.2 1381.3 L695 1381 L696.5 1380.8 L697.9 1380.6 L699.3 1380.3 L700.7 1380.1 L702.1 1379.9 L703.4 1379.7 L704.8 1379.5 L706.1 1379.3 L707.4 1379.2 L708.7 1379 L710 1378.8 L711.3 1378.7 L712.5 1378.6 L713.7 1378.4 L714.8 1378.3 L715.9 1378.1 L717.1 1378 L718.2 1377.9 L719.3 1377.8 L720.4 1377.7 L721.6 1377.7 L722.8 1377.7 L724 1377.7 L725.2 1377.8 L726.7 1378 L728.3 1378.2 L729.9 1378.6 L731.5 1378.9 L733.1 1379.4 L734.7 1379.8 L736.4 1380.3 L738.1 1380.8 L739.8 1381.4 L741.5 1381.9 L743.3 1382.5 L745 1383 L747 1383.7 L749 1384.4 L751.1 1385.2 L753.1 1386 L755.1 1386.9 L757.2 1387.7 L759.4 1388.6 L761.5 1389.4 L763.8 1390.2 L766.1 1390.9 L768.5 1391.5 L771 1392 L774.5 1392.5 L778.3 1392.9 L782.2 1393.2 L786.2 1393.4 L790.4 1393.5 L794.7 1393.5 L799 1393.5 L803.3 1393.4 L807.6 1393.3 L811.8 1393.2 L816 1393.1 L820 1393 L823.7 1392.9 L827.4 1392.8 L831 1392.7 L834.6 1392.5 L838.2 1392.4 L841.8 1392.2 L845.4 1392 L849 1391.7 L852.6 1391.4 L856.1 1391.2 L859.7 1390.8 L863.3 1390.5 L867 1390.1 L870.7 1389.7 L874.6 1389.3 L878.4 1388.9 L882.3 1388.4 L886.1 1387.9 L889.9 1387.4 L893.6 1386.8 L897.1 1386.3 L900.5 1385.7 L903.6 1385.1 L906.6 1384.5 L908.4 1384.1 L910.2 1383.7 L911.8 1383.2 L913.4 1382.8 L915 1382.3 L916.5 1381.9 L918 1381.4 L919.4 1381 L920.8 1380.5 L922.2 1380 L923.6 1379.5 L925 1379 L926.2 1378.6 L927.4 1378.1 L928.6 1377.7 L929.8 1377.3 L930.9 1376.9 L932.1 1376.5 L933.2 1376 L934.3 1375.5 L935.4 1375 L936.6 1374.5 L937.7 1373.9 L938.9 1373.3 L940.3 1372.5 L941.7 1371.7 L943.1 1370.8 L944.5 1369.9 L946 1369 L947.4 1368 L948.8 1367 L950.2 1365.9 L951.7 1364.9 L953.1 1363.8 L954.4 1362.6 L955.8 1361.5 L957.3 1360.2 L958.7 1359 L960.1 1357.6 L961.6 1356.3 L963 1354.9 L964.4 1353.5 L965.8 1352 L967.2 1350.6 L968.6 1349 L969.9 1347.5 L971.3 1345.9 L972.6 1344.3 L974.1 1342.4 L975.6 1340.4 L977.1 1338.4 L978.6 1336.2 L980.1 1334 L981.5 1331.8 L983 1329.6 L984.4 1327.5 L985.7 1325.3 L987 1323.3 L988.2 1321.3 L989.4 1319.4 L990.2 1318.1 L991 1316.8 L991.8 1315.5 L992.5 1314.3 L993.2 1313.2 L993.9 1312 L994.5 1310.8 L995.2 1309.7 L995.8 1308.5 L996.5 1307.3 L997.1 1306 L997.8 1304.7 L998.5 1303.2 L999.3 1301.7 L1000 1300.1 L1000.7 1298.5 L1001.4 1296.9 L1002.1 1295.3 L1002.8 1293.7 L1003.5 1292.1 L1004.2 1290.4 L1004.9 1288.7 L1005.6 1287.1 L1006.3 1285.4 L1007 1283.6 L1007.7 1281.8 L1008.4 1280 L1009.1 1278.1 L1009.8 1276.2 L1010.5 1274.3 L1011.2 1272.5 L1011.9 1270.6 L1012.6 1268.8 L1013.3 1267 L1014 1265.2 L1014.7 1263.5 L1015.3 1262.1 L1016 1260.7 L1016.6 1259.3 L1017.2 1258 L1017.8 1256.7 L1018.5 1255.4 L1019.1 1254.1 L1019.7 1252.8 L1020.4 1251.5 L1021.1 1250 L1021.8 1248.6 L1022.5 1247 L1023.5 1244.7 L1024.6 1242.3 L1025.8 1239.7 L1026.9 1237.1 L1028.1 1234.3 L1029.3 1231.6 L1030.5 1228.7 L1031.7 1225.9 L1033 1223 L1034.2 1220.2 L1035.3 1217.4 L1036.5 1214.6 L1037.7 1211.8 L1038.8 1209.1 L1039.9 1206.3 L1040.9 1203.6 L1042 1200.9 L1043.1 1198.1 L1044.2 1195.3 L1045.3 1192.5 L1046.5 1189.5 L1047.7 1186.5 L1048.9 1183.3 L1050.2 1180 L1052.2 1175 L1054.4 1169.7 L1056.7 1164.1 L1059.1 1158.3 L1061.6 1152.4 L1064.1 1146.3 L1066.6 1140.1 L1069.1 1133.9 L1071.5 1127.8 L1073.7 1121.7 L1075.8 1115.8 L1077.7 1110 L1079.3 1104.9 L1080.7 1099.7 L1082.1 1094.6 L1083.3 1089.4 L1084.5 1084.3 L1085.7 1079.3 L1086.8 1074.2 L1087.8 1069.2 L1088.9 1064.3 L1089.9 1059.5 L1090.9 1054.7 L1092 1050 L1092.9 1046.1 L1093.8 1042.4 L1094.7 1038.8 L1095.5 1035.4 L1096.4 1032 L1097.2 1028.5 L1098 1025.1 L1098.8 1021.5 L1099.6 1017.7 L1100.4 1013.8 L1101.2 1009.5 L1102 1005 L1103.3 996.8 L1104.6 987.8 L1105.9 978.2 L1107.2 968 L1108.5 957.4 L1109.7 946.4 L1111 935.3 L1112.2 924 L1113.4 912.7 L1114.6 901.6 L1115.8 890.6 L1117 880 L1118.2 869.6 L1119.4 859 L1120.5 848.5 L1121.7 837.9 L1122.8 827.4 L1124 816.8 L1125.1 806.3 L1126.2 795.9 L1127.3 785.5 L1128.3 775.2 L1129.3 765 L1130.3 755 L1131.2 745.9 L1132 737 L1132.8 728.1 L1133.6 719.3 L1134.4 710.6 L1135.1 701.9 L1135.9 693.3 L1136.6 684.7 L1137.3 676 L1138.1 667.4 L1138.8 658.7 L1139.5 650 L1140.2 641.2 L1140.9 632.2 L1141.6 623.2 L1142.3 614.1 L1143 605 L1143.7 595.9 L1144.4 587 L1145 578.1 L1145.7 569.5 L1146.4 561 L1147 552.9 L1147.7 545 L1148.2 539 L1148.7 533 L1149.3 527.2 L1149.8 521.4 L1150.3 515.8 L1150.8 510.3 L1151.3 504.9 L1151.8 499.6 L1152.3 494.5 L1152.8 489.5 L1153.3 484.7 L1153.8 480 L1154.1 476.7 L1154.5 473.4 L1154.8 470.2 L1155.1 467.1 L1155.3 464 L1155.6 461 L1156 458.1 L1156.3 455.3 L1156.6 452.6 L1157 450 L1157.5 447.4 L1158 445 L1158.4 443.2 L1158.8 441.4 L1159.3 439.4 L1159.7 437.5 L1160.2 435.6 L1160.7 433.8 L1161.2 432.2 L1161.7 430.7 L1162.2 429.5 L1162.7 428.6 L1163.2 428 L1163.7 427.8 L1164.2 428 L1164.6 428.6 L1165.1 429.5 L1165.6 430.8 L1166.1 432.2 L1166.5 433.8 L1167 435.6 L1167.5 437.5 L1167.9 439.4 L1168.3 441.4 L1168.7 443.2 L1169 445 L1169.4 447.4 L1169.8 450 L1170.1 452.6 L1170.4 455.3 L1170.6 458.1 L1170.8 461 L1170.9 464 L1171.1 467.1 L1171.3 470.2 L1171.4 473.4 L1171.6 476.7 L1171.8 480 L1172.1 484.7 L1172.4 489.5 L1172.6 494.5 L1172.9 499.6 L1173.1 504.9 L1173.4 510.3 L1173.6 515.8 L1173.8 521.4 L1174 527.2 L1174.3 533 L1174.5 539 L1174.7 545 L1175 552.9 L1175.2 561 L1175.5 569.5 L1175.7 578.1 L1176 587 L1176.2 595.9 L1176.4 605 L1176.6 614.1 L1176.8 623.2 L1177.1 632.2 L1177.3 641.2 L1177.5 650 L1177.7 658.7 L1177.9 667.4 L1178.2 676 L1178.4 684.7 L1178.6 693.3 L1178.8 701.9 L1179 710.6 L1179.2 719.3 L1179.4 728.1 L1179.6 737 L1179.8 745.9 L1180 755 L1180.2 765 L1180.4 775.2 L1180.6 785.5 L1180.8 795.8 L1181 806.3 L1181.2 816.8 L1181.4 827.3 L1181.6 837.9 L1181.8 848.4 L1182 859 L1182.2 869.5 L1182.4 880 L1182.6 890.6 L1182.8 901.3 L1182.9 912 L1183.1 922.8 L1183.3 933.5 L1183.4 944.3 L1183.6 955 L1183.7 965.6 L1183.9 976.2 L1184.1 986.6 L1184.2 996.9 L1184.4 1007 L1184.6 1016 L1184.7 1024.8 L1184.9 1033.5 L1185 1042.1 L1185.2 1050.6 L1185.4 1059.1 L1185.5 1067.6 L1185.7 1076 L1185.9 1084.4 L1186 1092.9 L1186.2 1101.4 L1186.4 1110 L1186.6 1118.7 L1186.8 1127.4 L1187 1136 L1187.2 1144.7 L1187.4 1153.4 L1187.6 1162.1 L1187.8 1170.8 L1188 1179.5 L1188.2 1188.3 L1188.5 1197.2 L1188.7 1206 L1189 1215 L1189.3 1224.7 L1189.6 1234.8 L1189.9 1245.2 L1190.2 1255.8 L1190.5 1266.4 L1190.8 1276.9 L1191.2 1287.3 L1191.5 1297.3 L1191.9 1306.9 L1192.3 1316 L1192.7 1324.4 L1193.1 1332 L1193.3 1336.2 L1193.5 1340.2 L1193.7 1344.2 L1193.9 1348 L1194.1 1351.6 L1194.3 1355.1 L1194.5 1358.5 L1194.8 1361.6 L1195.1 1364.5 L1195.5 1367.3 L1195.9 1369.8 L1196.4 1372 L1196.7 1373 L1197 1374 L1197.2 1374.8 L1197.5 1375.7 L1197.8 1376.4 L1198.2 1377.2 L1198.5 1377.9 L1198.8 1378.5 L1199.2 1379.2 L1199.6 1379.8 L1200 1380.4 L1200.5 1381 L1200.9 1381.6 L1201.4 1382.1 L1201.9 1382.6 L1202.3 1383.1 L1202.9 1383.6 L1203.4 1384 L1203.9 1384.4 L1204.5 1384.9 L1205.1 1385.3 L1205.7 1385.6 L1206.3 1386 L1207 1386.3 L1207.9 1386.7 L1208.8 1387 L1209.7 1387.3 L1210.7 1387.5 L1211.7 1387.7 L1212.7 1387.9 L1213.8 1388 L1214.9 1388.2 L1216.1 1388.3 L1217.3 1388.4 L1218.6 1388.6 L1220 1388.7 L1222.6 1388.9 L1225.4 1389.1 L1228.4 1389.2 L1231.7 1389.3 L1235.1 1389.3 L1238.6 1389.4 L1242.2 1389.4 L1245.8 1389.4 L1249.5 1389.4 L1253.1 1389.4 L1256.6 1389.4 L1260 1389.5 L1263.3 1389.6 L1266.6 1389.7 L1269.8 1389.7 L1273 1389.8 L1276.3 1389.9 L1279.5 1390 L1282.8 1390.1 L1286.1 1390.1 L1289.4 1390.2 L1292.9 1390.3 L1296.4 1390.4 L1300 1390.5 L1304.5 1390.6 L1309 1390.7 L1313.6 1390.9 L1318.2 1391 L1322.9 1391.2 L1327.7 1391.3 L1332.6 1391.4 L1337.7 1391.6 L1343 1391.7 L1348.4 1391.8 L1354.1 1391.9 L1360 1392 L1369.7 1392.1 L1380.1 1392.2 L1391.3 1392.2 L1403 1392.2 L1415 1392.2 L1427.4 1392.2 L1439.9 1392.1 L1452.4 1392.1 L1464.8 1392.1 L1477 1392 L1488.7 1392 L1500 1392 L1509.7 1392 L1519.4 1392 L1529 1392 L1538.6 1392.1 L1548 1392.1 L1557.4 1392.1 L1566.6 1392.1 L1575.7 1392.2 L1584.6 1392.1 L1593.3 1392.1 L1601.7 1392.1 L1610 1392 L1616.4 1391.9 L1622.6 1391.8 L1628.7 1391.7 L1634.7 1391.6 L1640.6 1391.4 L1646.3 1391.3 L1652 1391.2 L1657.6 1391 L1663.2 1390.9 L1668.8 1390.7 L1674.4 1390.6 L1680 1390.5 L1685.2 1390.4 L1690.3 1390.3 L1695.3 1390.2 L1700.3 1390.1 L1705.3 1390.1 L1710.3 1390 L1715.2 1389.9 L1720.2 1389.8 L1725.1 1389.8 L1730.1 1389.7 L1735 1389.7 L1740 1389.6 L1745 1389.5 L1750 1389.5 L1755 1389.5 L1759.9 1389.4 L1764.9 1389.4 L1769.9 1389.4 L1774.8 1389.3 L1779.8 1389.3 L1784.9 1389.3 L1789.9 1389.2 L1794.9 1389.2 L1800 1389.2 L1805.3 1389.2 L1810.6 1389.2 L1815.9 1389.1 L1821.3 1389.1 L1826.7 1389.1 L1832.1 1389.1 L1837.5 1389.1 L1842.8 1389.1 L1848.2 1389 L1853.6 1389 L1859 1389 L1864.4 1389"/>
</g>
<g stroke="#000" fill="none" stroke-linecap="round" stroke-linejoin="round" shape-rendering="crispEdges">
<path stroke-width="10" d="M289 138.5 V1461"/>
<path stroke-width="10" d="M289 1436 H1885.5 V1461"/>
<path stroke-width="10.5" d="M264 1394.0 H289 M276 1289.4 H289 M264 1184.8 H289 M276 1080.1 H289 M264 975.5 H289 M276 870.9 H289 M264 766.2 H289 M276 661.6 H289 M264 557.0 H289 M276 452.4 H289 M264 347.8 H289 M276 243.1 H289 M264 138.5 H289"/>
<path stroke-width="10.5" d="M289.0 1436 V1461 M403.0 1436 V1449 M517.1 1436 V1461 M631.1 1436 V1449 M745.1 1436 V1461 M859.2 1436 V1449 M973.2 1436 V1461 M1087.2 1436 V1449 M1201.3 1436 V1461 M1315.3 1436 V1449 M1429.3 1436 V1461 M1543.4 1436 V1449 M1657.4 1436 V1461 M1771.5 1436 V1449 M1885.5 1436 V1461"/>
</g>
<g filter="url(#bw)">
<g>
<text transform="translate(0 1405.8) scale(0.9622 1)" font-size="52.9" x="187.9 214.6 229.5" y="0">0.0</text>
<text transform="translate(0 1196.5) scale(0.9622 1)" font-size="52.9" x="187.9 214.6 229.4" y="0">0.5</text>
<clipPath id="c1_1"><path clip-rule="evenodd" d="M-100 -200 H3000 V100 H-100 Z M191.53 -6.20 H201.29 V3 H191.53 Z M208.55 -6.20 H217.62 V3 H208.55 Z"/></clipPath><text transform="translate(0 987.3) scale(0.9622 1)" font-size="52.9" x="188.9 214.6 229.5" y="0" clip-path="url(#c1_1)">1.0</text>
<clipPath id="c1_2"><path clip-rule="evenodd" d="M-100 -200 H3000 V100 H-100 Z M191.53 -6.20 H201.29 V3 H191.53 Z M208.55 -6.20 H217.62 V3 H208.55 Z"/></clipPath><text transform="translate(0 778.0) scale(0.9622 1)" font-size="52.9" x="188.9 214.6 229.4" y="0" clip-path="url(#c1_2)">1.5</text>
<text transform="translate(0 568.8) scale(0.9622 1)" font-size="52.9" x="188.1 214.6 229.5" y="0">2.0</text>
<text transform="translate(0 359.6) scale(0.9622 1)" font-size="52.9" x="188.1 214.6 229.4" y="0">2.5</text>
<text transform="translate(0 150.3) scale(0.9622 1)" font-size="52.9" x="188.0 214.6 229.5" y="0">3.0</text>
<text transform="translate(0 1513.6) scale(0.9622 1)" font-size="52.9" x="286.7" y="0">0</text>
<clipPath id="c1_3"><path clip-rule="evenodd" d="M-100 -200 H3000 V100 H-100 Z M499.16 -6.20 H508.92 V3 H499.16 Z M516.18 -6.20 H525.24 V3 H516.18 Z"/></clipPath><text transform="translate(0 1513.6) scale(0.9622 1)" font-size="52.9" x="496.6 523.3 550.5" y="0" clip-path="url(#c1_3)">100</text>
<text transform="translate(0 1513.6) scale(0.9622 1)" font-size="52.9" x="733.2 760.4 787.5" y="0">200</text>
<text transform="translate(0 1513.6) scale(0.9622 1)" font-size="52.9" x="970.5 997.4 1024.5" y="0">300</text>
<text transform="translate(0 1513.6) scale(0.9622 1)" font-size="52.9" x="1206.9 1234.4 1261.6" y="0">400</text>
<text transform="translate(0 1513.6) scale(0.9622 1)" font-size="52.9" x="1444.1 1471.5 1498.6" y="0">500</text>
<text transform="translate(0 1513.6) scale(0.9622 1)" font-size="52.9" x="1681.2 1708.5 1735.6" y="0">600</text>
<text transform="translate(0 1513.6) scale(0.9622 1)" font-size="52.9" x="1918.3 1945.5 1972.7" y="0">700</text>
</g>
<g>
<text transform="translate(0 1628) scale(0.9294 1)" font-size="65.2" x="925.3 963.9 1000.0 1055.2 1093.0 1130.0 1151.3 1188.9 1228.4 1251.3 1287.6 1301.8" y="0">Temperaure (</text>
<text transform="translate(0 1593.8) scale(1.0642 1)" font-size="37.4" x="1156.2" y="0">o</text>
<text transform="translate(0 1628) scale(0.9294 1)" font-size="65.2" x="1347.1 1395.3" y="0">C)</text>
</g>
<g>
<text transform="translate(90.1 1088) rotate(-90) scale(0.9294 1)" font-size="65.2" x="-4.3 43.0 81.4 107.8 124.6 161.5 179.6 199.2 261.4 300.2 318.3 358.3 399.2 418.5 442.5 501.0" y="0">Deriv. Weight(%/</text>
<text transform="translate(55.5 1088) rotate(-90) scale(1.0642 1)" font-size="37.4" x="453.3" y="0">o</text>
<text transform="translate(90.1 1088) rotate(-90) scale(0.9294 1)" font-size="65.2" x="544.7 594.9" y="0">C)</text>
</g>
</g>
<rect x="1400.5" y="36.5" width="548" height="606" fill="#fff" stroke="#000" stroke-width="3" shape-rendering="crispEdges"/>
<g fill="none" stroke-width="11" stroke-linecap="round" shape-rendering="crispEdges">
<path stroke="#000000" stroke-width="11" d="M1487.3 92.5 H1624.7"/>
<path stroke="#ff0000" stroke-width="11" d="M1487.3 182.5 H1624.7"/>
<path stroke="#00ff00" stroke-width="11" d="M1487.3 271.5 H1624.7"/>
<path stroke="#0000ff" stroke-width="10" d="M1487.3 361.0 H1624.7"/>
<path stroke="#00ffff" stroke-width="10" d="M1487.3 450.0 H1624.7"/>
<path stroke="#ff00ff" stroke-width="11" d="M1487.3 539.5 H1624.7"/>
</g>
<g filter="url(#bw)">
<g>
<text transform="translate(0 114.0) scale(0.9294 1)" font-size="65.2" x="1766.7 1803.0" y="0">3 </text>
<text transform="translate(0 80.4) scale(1.0642 1)" font-size="37.4" x="1587.4" y="0">o</text>
<text transform="translate(0 114.0) scale(0.9294 1)" font-size="65.2" x="1842.1 1887.4 1907.2 1962.8 1979.9" y="0">C/min</text>
</g>
<g>
<text transform="translate(0 203.1) scale(0.9294 1)" font-size="65.2" x="1766.2 1802.4" y="0">5 </text>
<text transform="translate(0 169.5) scale(1.0642 1)" font-size="37.4" x="1587.4" y="0">o</text>
<text transform="translate(0 203.1) scale(0.9294 1)" font-size="65.2" x="1842.1 1887.4 1907.2 1962.8 1979.9" y="0">C/min</text>
</g>
<g>
<text transform="translate(0 292.0) scale(0.9294 1)" font-size="65.2" x="1765.1 1801.4" y="0">7 </text>
<text transform="translate(0 258.4) scale(1.0642 1)" font-size="37.4" x="1587.4" y="0">o</text>
<text transform="translate(0 292.0) scale(0.9294 1)" font-size="65.2" x="1842.1 1887.4 1907.2 1962.8 1979.9" y="0">C/min</text>
</g>
<g>
<clipPath id="c1_4"><path clip-rule="evenodd" d="M-100 -200 H3000 V100 H-100 Z M1770.15 -7.45 H1782.18 V3 H1770.15 Z M1791.13 -7.45 H1802.30 V3 H1791.13 Z"/></clipPath><text transform="translate(0 381.1) scale(0.9294 1)" font-size="65.2" x="1767.0 1799.8 1836.0" y="0" clip-path="url(#c1_4)">10 </text>
<text transform="translate(0 347.5) scale(1.0642 1)" font-size="37.4" x="1617.5" y="0">o</text>
<text transform="translate(0 381.1) scale(0.9294 1)" font-size="65.2" x="1875.5 1921.7 1941.5 1997.0 2014.0" y="0">C/min</text>
</g>
<g>
<clipPath id="c1_5"><path clip-rule="evenodd" d="M-100 -200 H3000 V100 H-100 Z M1770.15 -7.45 H1782.18 V3 H1770.15 Z M1791.13 -7.45 H1802.30 V3 H1791.13 Z"/></clipPath><text transform="translate(0 470.0) scale(0.9294 1)" font-size="65.2" x="1767.0 1800.7 1837.0" y="0" clip-path="url(#c1_5)">15 </text>
<text transform="translate(0 436.4) scale(1.0642 1)" font-size="37.4" x="1617.5" y="0">o</text>
<text transform="translate(0 470.0) scale(0.9294 1)" font-size="65.2" x="1875.5 1921.7 1941.5 1997.0 2014.0" y="0">C/min</text>
</g>
<g>
<text transform="translate(0 559.6) scale(0.9294 1)" font-size="65.2" x="1765.7 1799.8 1836.0" y="0">20 </text>
<text transform="translate(0 526.0) scale(1.0642 1)" font-size="37.4" x="1617.5" y="0">o</text>
<text transform="translate(0 559.6) scale(0.9294 1)" font-size="65.2" x="1875.5 1921.7 1941.5 1997.0 2014.0" y="0">C/min</text>
</g>
</g>
</svg></body></html>
